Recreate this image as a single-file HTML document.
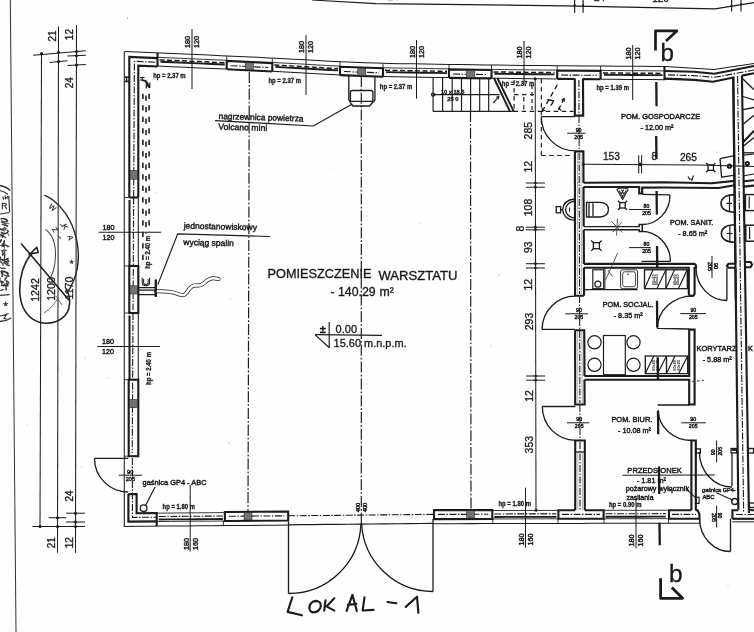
<!DOCTYPE html>
<html><head><meta charset="utf-8"><title>plan</title>
<style>
html,body{margin:0;padding:0;background:#fff;}
svg{display:block;font-family:"Liberation Sans",sans-serif;}
</style></head><body>
<svg width="754" height="632" viewBox="0 0 754 632">
<defs>
<pattern id="hx" width="2" height="2" patternUnits="userSpaceOnUse">
<rect width="2" height="2" fill="#b4b4b4"/><path d="M0,0L2,2M2,0L0,2" stroke="#444" stroke-width="0.6"/>
</pattern>
<filter id="soft" x="0" y="0" width="100%" height="100%" filterUnits="userSpaceOnUse"><feGaussianBlur stdDeviation="0.32"/></filter>
</defs>
<rect width="754" height="632" fill="#fefefe"/>
<g filter="url(#soft)">
<line x1="124.30" y1="51.50" x2="124.30" y2="526.40" stroke="#1a1a1a" stroke-width="1.01" stroke-linecap="butt"/>
<polyline points="124.70,51.50 136.73,52.01 148.75,52.53 160.78,53.04 172.81,53.55 184.83,54.06 196.86,54.59 208.89,55.12 220.91,55.65 232.94,56.18 244.97,56.74 256.99,57.32 269.02,57.90 281.04,58.52 293.07,59.14 305.10,59.81 317.12,60.53 329.15,61.25 341.18,61.78 353.20,62.31 365.23,62.76 377.26,63.12 389.28,63.48 401.31,63.68 413.34,63.87 425.36,64.07 437.39,64.26 449.42,64.43 461.44,64.59 473.47,64.75 485.50,64.91 497.52,65.07 509.55,65.23 521.58,65.39 533.60,65.53 545.63,65.62 557.66,65.70 569.68,65.79 581.71,65.88 593.73,65.97 605.76,66.06 617.79,66.15 629.81,66.24 641.84,66.33 653.87,66.42 665.89,66.55 677.92,67.29 689.95,68.03 701.97,68.76 714.00,69.50" fill="none" stroke="#1a1a1a" stroke-width="1.01" stroke-linejoin="miter"/>
<line x1="714.00" y1="69.50" x2="754.00" y2="63.60" stroke="#1a1a1a" stroke-width="1.01" stroke-linecap="butt"/>
<polyline points="123.80,526.40 136.47,526.30 149.14,526.20 161.81,526.10 174.48,526.00 187.15,525.90 199.82,525.80 212.48,525.70 225.15,525.60 237.82,525.50 250.49,525.40 263.16,525.30 275.83,525.19 288.50,525.09" fill="none" stroke="#1a1a1a" stroke-width="1.01" stroke-linejoin="miter"/>
<polyline points="129.30,197.50 129.30,56.90 157.50,58.10" fill="none" stroke="#1a1a1a" stroke-width="2.12" stroke-linejoin="miter"/>
<polyline points="138.30,197.50 138.30,65.68 157.50,66.50" fill="none" stroke="#1a1a1a" stroke-width="2.12" stroke-linejoin="miter"/>
<line x1="157.50" y1="52.90" x2="157.50" y2="66.50" stroke="#1a1a1a" stroke-width="2.12" stroke-linecap="butt"/>
<line x1="129.30" y1="197.50" x2="138.30" y2="197.50" stroke="#1a1a1a" stroke-width="2.12" stroke-linecap="butt"/>
<polyline points="133.66,197.00 134.42,61.26 157.00,62.28" fill="none" stroke="#1a1a1a" stroke-width="1.09" stroke-dasharray="7 1.5 1.5 1.5" stroke-linejoin="miter"/>
<rect x="130.10" y="170.50" width="7.40" height="8.70" fill="url(#hx)" stroke="#1a1a1a" stroke-width="0.5"/>
<line x1="124.30" y1="197.50" x2="129.30" y2="197.50" stroke="#1a1a1a" stroke-width="0.87" stroke-linecap="butt"/>
<line x1="124.30" y1="266.00" x2="129.30" y2="266.00" stroke="#1a1a1a" stroke-width="0.87" stroke-linecap="butt"/>
<line x1="124.30" y1="313.00" x2="129.30" y2="313.00" stroke="#1a1a1a" stroke-width="0.87" stroke-linecap="butt"/>
<line x1="124.30" y1="379.70" x2="129.30" y2="379.70" stroke="#1a1a1a" stroke-width="0.87" stroke-linecap="butt"/>
<line x1="124.30" y1="456.20" x2="129.30" y2="456.20" stroke="#1a1a1a" stroke-width="0.87" stroke-linecap="butt"/>
<line x1="129.50" y1="200.00" x2="129.50" y2="265.50" stroke="#1a1a1a" stroke-width="2.0" stroke-linecap="butt"/>
<line x1="133.65" y1="197.50" x2="133.27" y2="266.00" stroke="#1a1a1a" stroke-width="1.09" stroke-dasharray="7 1.5 1.5 1.5" stroke-linecap="butt"/>
<line x1="138.30" y1="197.50" x2="138.30" y2="266.00" stroke="#1a1a1a" stroke-width="1.01" stroke-linecap="butt"/>
<rect x="129.30" y="266.00" width="9.00" height="47.00" fill="none" stroke="#1a1a1a" stroke-width="2.12"/>
<line x1="133.27" y1="269.00" x2="133.01" y2="310.00" stroke="#1a1a1a" stroke-width="1.09" stroke-dasharray="7 1.5 1.5 1.5" stroke-linecap="butt"/>
<rect x="130.10" y="285.80" width="7.40" height="8.20" fill="url(#hx)" stroke="#1a1a1a" stroke-width="0.5"/>
<line x1="129.50" y1="315.50" x2="129.50" y2="379.20" stroke="#1a1a1a" stroke-width="2.0" stroke-linecap="butt"/>
<line x1="133.01" y1="313.00" x2="132.63" y2="379.70" stroke="#1a1a1a" stroke-width="1.09" stroke-dasharray="7 1.5 1.5 1.5" stroke-linecap="butt"/>
<line x1="138.30" y1="313.00" x2="138.30" y2="379.70" stroke="#1a1a1a" stroke-width="1.01" stroke-linecap="butt"/>
<rect x="128.70" y="379.70" width="9.60" height="76.50" fill="none" stroke="#1a1a1a" stroke-width="2.12"/>
<line x1="132.62" y1="382.70" x2="132.22" y2="453.00" stroke="#1a1a1a" stroke-width="1.09" stroke-dasharray="7 1.5 1.5 1.5" stroke-linecap="butt"/>
<rect x="129.50" y="399.50" width="8.00" height="8.20" fill="url(#hx)" stroke="#1a1a1a" stroke-width="0.5"/>
<polyline points="128.40,494.10 128.40,521.60 156.70,521.40" fill="none" stroke="#1a1a1a" stroke-width="2.12" stroke-linejoin="miter"/>
<polyline points="128.40,494.10 136.60,494.10 136.60,513.20 156.70,513.00 156.70,526.20" fill="none" stroke="#1a1a1a" stroke-width="2.12" stroke-linejoin="miter"/>
<polyline points="132.40,458.00 132.40,517.40 156.00,517.20" fill="none" stroke="#1a1a1a" stroke-width="1.09" stroke-dasharray="7 1.5 1.5 1.5" stroke-linejoin="miter"/>
<polyline points="157.50,57.30 171.34,57.89 185.18,58.48 199.02,59.08 212.86,59.69 226.70,60.30" fill="none" stroke="#1a1a1a" stroke-width="0.87" stroke-linejoin="miter"/>
<polyline points="159.50,59.88 172.54,60.44 185.58,61.00 198.62,61.57 211.66,62.14 224.70,62.71" fill="none" stroke="#1a1a1a" stroke-width="1.45" stroke-dasharray="5 2.5" stroke-linejoin="miter"/>
<polyline points="160.50,61.73 173.34,62.27 186.18,62.82 199.02,63.38 211.86,63.95 224.70,64.51" fill="none" stroke="#1a1a1a" stroke-width="1.88" stroke-linejoin="miter"/>
<polyline points="157.50,66.10 171.34,66.69 185.18,67.28 199.02,67.88 212.86,68.49 226.70,69.10" fill="none" stroke="#1a1a1a" stroke-width="1.01" stroke-linejoin="miter"/>
<polyline points="226.70,69.30 226.70,60.90 272.30,63.07 272.30,71.47" fill="none" stroke="#1a1a1a" stroke-width="2.12" stroke-linejoin="miter"/>
<polyline points="226.70,69.30 272.30,71.47" fill="none" stroke="#1a1a1a" stroke-width="2.12" stroke-linejoin="miter"/>
<line x1="226.70" y1="55.90" x2="226.70" y2="60.90" stroke="#1a1a1a" stroke-width="0.87" stroke-linecap="butt"/>
<line x1="272.30" y1="58.07" x2="272.30" y2="63.07" stroke="#1a1a1a" stroke-width="0.87" stroke-linecap="butt"/>
<polyline points="230.70,65.68 243.23,66.25 255.77,66.86 268.30,67.47" fill="none" stroke="#1a1a1a" stroke-width="1.09" stroke-dasharray="7 1.5 1.5 1.5" stroke-linejoin="miter"/>
<rect x="245.40" y="62.66" width="8.00" height="7.20" fill="url(#hx)" stroke="#1a1a1a" stroke-width="0.5"/>
<polyline points="272.30,62.47 285.84,63.17 299.38,63.87 312.92,64.68 326.46,65.49 340.00,66.13" fill="none" stroke="#1a1a1a" stroke-width="0.87" stroke-linejoin="miter"/>
<polyline points="274.30,65.07 287.04,65.73 299.78,66.39 312.52,67.15 325.26,67.92 338.00,68.55" fill="none" stroke="#1a1a1a" stroke-width="1.45" stroke-dasharray="5 2.5" stroke-linejoin="miter"/>
<polyline points="275.30,66.92 287.84,67.57 300.38,68.22 312.92,68.98 325.46,69.73 338.00,70.35" fill="none" stroke="#1a1a1a" stroke-width="1.88" stroke-linejoin="miter"/>
<polyline points="272.30,71.27 285.84,71.97 299.38,72.67 312.92,73.48 326.46,74.29 340.00,74.93" fill="none" stroke="#1a1a1a" stroke-width="1.01" stroke-linejoin="miter"/>
<polyline points="340.00,75.13 340.00,66.73 383.00,68.29 383.00,76.69" fill="none" stroke="#1a1a1a" stroke-width="2.12" stroke-linejoin="miter"/>
<polyline points="340.00,75.13 383.00,76.69" fill="none" stroke="#1a1a1a" stroke-width="2.12" stroke-linejoin="miter"/>
<line x1="340.00" y1="61.73" x2="340.00" y2="66.73" stroke="#1a1a1a" stroke-width="0.87" stroke-linecap="butt"/>
<line x1="383.00" y1="63.29" x2="383.00" y2="68.29" stroke="#1a1a1a" stroke-width="0.87" stroke-linecap="butt"/>
<polyline points="344.00,71.51 361.50,72.25 379.00,72.77" fill="none" stroke="#1a1a1a" stroke-width="1.09" stroke-dasharray="7 1.5 1.5 1.5" stroke-linejoin="miter"/>
<rect x="357.80" y="68.40" width="8.00" height="7.20" fill="url(#hx)" stroke="#1a1a1a" stroke-width="0.5"/>
<polyline points="383.00,67.69 396.20,68.00 409.40,68.21 422.60,68.42 435.80,68.63 449.00,68.82" fill="none" stroke="#1a1a1a" stroke-width="0.87" stroke-linejoin="miter"/>
<polyline points="385.00,70.25 397.40,70.52 409.80,70.72 422.20,70.92 434.60,71.11 447.00,71.29" fill="none" stroke="#1a1a1a" stroke-width="1.45" stroke-dasharray="5 2.5" stroke-linejoin="miter"/>
<polyline points="386.00,72.08 398.20,72.33 410.40,72.53 422.60,72.72 434.80,72.92 447.00,73.09" fill="none" stroke="#1a1a1a" stroke-width="1.88" stroke-linejoin="miter"/>
<polyline points="383.00,76.49 396.20,76.80 409.40,77.01 422.60,77.22 435.80,77.43 449.00,77.62" fill="none" stroke="#1a1a1a" stroke-width="1.01" stroke-linejoin="miter"/>
<polyline points="449.00,77.82 449.00,69.42 491.50,69.99 491.50,78.39" fill="none" stroke="#1a1a1a" stroke-width="2.12" stroke-linejoin="miter"/>
<polyline points="449.00,77.82 491.50,78.39" fill="none" stroke="#1a1a1a" stroke-width="2.12" stroke-linejoin="miter"/>
<line x1="449.00" y1="64.42" x2="449.00" y2="69.42" stroke="#1a1a1a" stroke-width="0.87" stroke-linecap="butt"/>
<line x1="491.50" y1="64.99" x2="491.50" y2="69.99" stroke="#1a1a1a" stroke-width="0.87" stroke-linecap="butt"/>
<polyline points="453.00,74.07 470.25,74.30 487.50,74.53" fill="none" stroke="#1a1a1a" stroke-width="1.09" stroke-dasharray="7 1.5 1.5 1.5" stroke-linejoin="miter"/>
<rect x="466.50" y="70.55" width="8.00" height="7.20" fill="url(#hx)" stroke="#1a1a1a" stroke-width="0.5"/>
<polyline points="491.50,69.39 504.50,69.56 517.50,69.73 530.50,69.90 543.50,70.00 556.50,70.10" fill="none" stroke="#1a1a1a" stroke-width="0.87" stroke-linejoin="miter"/>
<polyline points="493.50,71.91 505.70,72.08 517.90,72.24 530.10,72.40 542.30,72.49 554.50,72.58" fill="none" stroke="#1a1a1a" stroke-width="1.45" stroke-dasharray="5 2.5" stroke-linejoin="miter"/>
<polyline points="494.50,73.73 506.50,73.89 518.50,74.05 530.50,74.20 542.50,74.29 554.50,74.38" fill="none" stroke="#1a1a1a" stroke-width="1.88" stroke-linejoin="miter"/>
<polyline points="491.50,78.19 504.50,78.36 517.50,78.53 530.50,78.70 543.50,78.80 556.50,78.90" fill="none" stroke="#1a1a1a" stroke-width="1.01" stroke-linejoin="miter"/>
<polyline points="601.00,70.43 613.70,70.52 626.40,70.61 639.10,70.71 651.80,70.80 664.50,70.90" fill="none" stroke="#1a1a1a" stroke-width="0.87" stroke-linejoin="miter"/>
<polyline points="603.00,72.94 617.88,73.05 632.75,73.16 647.62,73.27 662.50,73.38" fill="none" stroke="#1a1a1a" stroke-width="1.45" stroke-dasharray="5 2.5" stroke-linejoin="miter"/>
<polyline points="604.00,74.75 618.62,74.86 633.25,74.96 647.88,75.07 662.50,75.18" fill="none" stroke="#1a1a1a" stroke-width="1.88" stroke-linejoin="miter"/>
<polyline points="601.00,79.23 613.70,79.32 626.40,79.41 639.10,79.51 651.80,79.60 664.50,79.70" fill="none" stroke="#1a1a1a" stroke-width="1.01" stroke-linejoin="miter"/>
<polyline points="156.80,513.14 170.42,513.03 184.04,512.92 197.66,512.81 211.28,512.71 224.90,512.60" fill="none" stroke="#1a1a1a" stroke-width="0.87" stroke-linejoin="miter"/>
<polyline points="158.80,516.52 171.62,516.42 184.44,516.32 197.26,516.22 210.08,516.12 222.90,516.01" fill="none" stroke="#1a1a1a" stroke-width="1.09" stroke-dasharray="7 1.5 1.5 1.5" stroke-linejoin="miter"/>
<polyline points="158.80,519.52 171.62,519.42 184.44,519.32 197.26,519.22 210.08,519.12 222.90,519.01" fill="none" stroke="#1a1a1a" stroke-width="1.88" stroke-linejoin="miter"/>
<polyline points="156.80,521.54 170.42,521.43 184.04,521.32 197.66,521.21 211.28,521.11 224.90,521.00" fill="none" stroke="#1a1a1a" stroke-width="0.87" stroke-linejoin="miter"/>
<polygon points="224.90,512.00 288.20,511.50 288.20,520.50 224.90,521.00" fill="none" stroke="#1a1a1a" stroke-width="2.12" stroke-linejoin="miter"/>
<polyline points="228.90,516.27 242.72,516.16 256.55,516.05 270.38,515.94 284.20,515.83" fill="none" stroke="#1a1a1a" stroke-width="1.09" stroke-dasharray="7 1.5 1.5 1.5" stroke-linejoin="miter"/>
<rect x="244.00" y="512.55" width="8.00" height="7.40" fill="url(#hx)" stroke="#1a1a1a" stroke-width="0.5"/>
<line x1="223.40" y1="521.00" x2="223.40" y2="525.60" stroke="#1a1a1a" stroke-width="0.87" stroke-linecap="butt"/>
<polyline points="288.20,524.80 300.31,524.68 312.42,524.56 324.52,524.45 336.63,524.33 348.74,524.21 360.85,524.10 372.96,523.98 385.07,523.86 397.18,523.75 409.28,523.63 421.39,523.51 433.50,523.40" fill="none" stroke="#1a1a1a" stroke-width="1.16" stroke-linejoin="miter"/>
<polyline points="288.20,515.80 300.31,515.68 312.42,515.56 324.52,515.45 336.63,515.33 348.74,515.21 360.85,515.10 372.96,514.98 385.07,514.86 397.18,514.75 409.28,514.63 421.39,514.51 433.50,514.40" fill="none" stroke="#1a1a1a" stroke-width="1.09" stroke-dasharray="7 1.5 1.5 1.5" stroke-linejoin="miter"/>
<polygon points="434.00,510.10 492.30,509.96 492.30,518.96 434.00,519.10" fill="none" stroke="#1a1a1a" stroke-width="2.12" stroke-linejoin="miter"/>
<polyline points="438.00,514.39 450.57,514.36 463.15,514.33 475.73,514.30 488.30,514.27" fill="none" stroke="#1a1a1a" stroke-width="1.09" stroke-dasharray="7 1.5 1.5 1.5" stroke-linejoin="miter"/>
<rect x="466.50" y="510.72" width="8.00" height="7.40" fill="url(#hx)" stroke="#1a1a1a" stroke-width="0.5"/>
<polyline points="433.50,523.70 445.64,523.67 457.77,523.64 469.91,523.62 482.05,523.59 494.18,523.56 506.32,523.53 518.45,523.50 530.59,523.48 542.73,523.45 554.86,523.42 567.00,523.40 579.14,523.38 591.27,523.36 603.41,523.34 615.55,523.32 627.68,523.31 639.82,523.29 651.95,523.27 664.09,523.25 676.23,523.23 688.36,523.22 700.50,523.20" fill="none" stroke="#1a1a1a" stroke-width="1.01" stroke-linejoin="miter"/>
<polyline points="492.30,510.56 505.54,510.53 518.78,510.50 532.02,510.47 545.26,510.44 558.50,510.41" fill="none" stroke="#1a1a1a" stroke-width="0.87" stroke-linejoin="miter"/>
<polyline points="494.30,513.96 506.74,513.93 519.18,513.90 531.62,513.87 544.06,513.85 556.50,513.82" fill="none" stroke="#1a1a1a" stroke-width="1.09" stroke-dasharray="7 1.5 1.5 1.5" stroke-linejoin="miter"/>
<polyline points="494.30,516.96 506.74,516.93 519.18,516.90 531.62,516.87 544.06,516.85 556.50,516.82" fill="none" stroke="#1a1a1a" stroke-width="1.88" stroke-linejoin="miter"/>
<polyline points="492.30,518.96 505.54,518.93 518.78,518.90 532.02,518.87 545.26,518.84 558.50,518.81" fill="none" stroke="#1a1a1a" stroke-width="0.87" stroke-linejoin="miter"/>
<polyline points="603.50,510.34 616.36,510.32 629.22,510.30 642.08,510.29 654.94,510.27 667.80,510.25" fill="none" stroke="#1a1a1a" stroke-width="0.87" stroke-linejoin="miter"/>
<polyline points="605.50,513.74 617.56,513.72 629.62,513.70 641.68,513.69 653.74,513.67 665.80,513.65" fill="none" stroke="#1a1a1a" stroke-width="1.09" stroke-dasharray="7 1.5 1.5 1.5" stroke-linejoin="miter"/>
<polyline points="605.50,516.74 617.56,516.72 629.62,516.70 641.68,516.69 653.74,516.67 665.80,516.65" fill="none" stroke="#1a1a1a" stroke-width="1.88" stroke-linejoin="miter"/>
<polyline points="603.50,518.74 616.36,518.72 629.22,518.70 642.08,518.69 654.94,518.67 667.80,518.65" fill="none" stroke="#1a1a1a" stroke-width="0.87" stroke-linejoin="miter"/>
<line x1="492.80" y1="519.16" x2="492.80" y2="523.56" stroke="#1a1a1a" stroke-width="0.87" stroke-linecap="butt"/>
<line x1="558.00" y1="519.01" x2="558.00" y2="523.41" stroke="#1a1a1a" stroke-width="0.87" stroke-linecap="butt"/>
<line x1="604.00" y1="518.94" x2="604.00" y2="523.34" stroke="#1a1a1a" stroke-width="0.87" stroke-linecap="butt"/>
<line x1="668.60" y1="518.85" x2="668.60" y2="523.25" stroke="#1a1a1a" stroke-width="0.87" stroke-linecap="butt"/>
<line x1="699.80" y1="518.80" x2="699.80" y2="523.20" stroke="#1a1a1a" stroke-width="0.87" stroke-linecap="butt"/>
<line x1="10.30" y1="0.00" x2="16.00" y2="632.00" stroke="#333" stroke-width="1.01" stroke-linecap="butt"/>
<line x1="41.50" y1="53.60" x2="40.00" y2="526.50" stroke="#1a1a1a" stroke-width="1.01" stroke-linecap="butt"/>
<line x1="58.50" y1="26.40" x2="57.50" y2="552.70" stroke="#1a1a1a" stroke-width="1.01" stroke-linecap="butt"/>
<line x1="76.50" y1="25.10" x2="75.50" y2="552.70" stroke="#1a1a1a" stroke-width="1.01" stroke-linecap="butt"/>
<line x1="33.20" y1="55.30" x2="85.80" y2="50.80" stroke="#1a1a1a" stroke-width="1.01" stroke-linecap="butt"/>
<line x1="49.70" y1="62.50" x2="67.40" y2="60.80" stroke="#1a1a1a" stroke-width="1.01" stroke-linecap="butt"/>
<line x1="67.40" y1="56.10" x2="85.80" y2="55.30" stroke="#1a1a1a" stroke-width="1.01" stroke-linecap="butt"/>
<line x1="67.40" y1="65.40" x2="85.80" y2="64.60" stroke="#1a1a1a" stroke-width="1.01" stroke-linecap="butt"/>
<circle cx="41.50" cy="53.60" r="1.5" fill="#1a1a1a"/>
<circle cx="58.50" cy="52.30" r="1.5" fill="#1a1a1a"/>
<circle cx="76.50" cy="51.50" r="1.5" fill="#1a1a1a"/>
<circle cx="58.50" cy="61.60" r="1.5" fill="#1a1a1a"/>
<circle cx="76.50" cy="55.80" r="1.5" fill="#1a1a1a"/>
<circle cx="76.50" cy="65.10" r="1.5" fill="#1a1a1a"/>
<line x1="32.50" y1="526.50" x2="85.00" y2="526.50" stroke="#1a1a1a" stroke-width="1.01" stroke-linecap="butt"/>
<line x1="48.70" y1="517.70" x2="66.20" y2="517.70" stroke="#1a1a1a" stroke-width="1.01" stroke-linecap="butt"/>
<line x1="66.20" y1="513.20" x2="85.00" y2="513.20" stroke="#1a1a1a" stroke-width="1.01" stroke-linecap="butt"/>
<line x1="66.20" y1="522.00" x2="85.00" y2="522.00" stroke="#1a1a1a" stroke-width="1.01" stroke-linecap="butt"/>
<circle cx="40.00" cy="526.50" r="1.5" fill="#1a1a1a"/>
<circle cx="57.50" cy="526.50" r="1.5" fill="#1a1a1a"/>
<circle cx="75.50" cy="526.50" r="1.5" fill="#1a1a1a"/>
<circle cx="57.50" cy="517.70" r="1.5" fill="#1a1a1a"/>
<circle cx="75.50" cy="513.20" r="1.5" fill="#1a1a1a"/>
<circle cx="75.50" cy="522.00" r="1.5" fill="#1a1a1a"/>
<text x="56.00" y="35.90" font-size="10" text-anchor="middle" font-weight="normal" fill="#1a1a1a" stroke="#1a1a1a" stroke-width="0.32" transform="rotate(-90 56.00 35.90)">21</text>
<text x="73.40" y="34.60" font-size="10" text-anchor="middle" font-weight="normal" fill="#1a1a1a" stroke="#1a1a1a" stroke-width="0.32" transform="rotate(-90 73.40 34.60)">12</text>
<text x="73.40" y="82.70" font-size="10" text-anchor="middle" font-weight="normal" fill="#1a1a1a" stroke="#1a1a1a" stroke-width="0.32" transform="rotate(-90 73.40 82.70)">24</text>
<text x="73.20" y="496.00" font-size="10" text-anchor="middle" font-weight="normal" fill="#1a1a1a" stroke="#1a1a1a" stroke-width="0.32" transform="rotate(-90 73.20 496.00)">24</text>
<text x="55.20" y="542.70" font-size="10" text-anchor="middle" font-weight="normal" fill="#1a1a1a" stroke="#1a1a1a" stroke-width="0.32" transform="rotate(-90 55.20 542.70)">21</text>
<text x="73.20" y="542.70" font-size="10" text-anchor="middle" font-weight="normal" fill="#1a1a1a" stroke="#1a1a1a" stroke-width="0.32" transform="rotate(-90 73.20 542.70)">12</text>
<text x="39.00" y="290.00" font-size="10.6" text-anchor="middle" font-weight="normal" fill="#1a1a1a" stroke="#1a1a1a" stroke-width="0.32" transform="rotate(-90 39.00 290.00)">1242</text>
<text x="55.30" y="289.00" font-size="10.6" text-anchor="middle" font-weight="normal" fill="#1a1a1a" stroke="#1a1a1a" stroke-width="0.32" transform="rotate(-90 55.30 289.00)">1200</text>
<text x="72.80" y="288.00" font-size="10.6" text-anchor="middle" font-weight="normal" fill="#1a1a1a" stroke="#1a1a1a" stroke-width="0.32" transform="rotate(-90 72.80 288.00)">1170</text>
<line x1="192.00" y1="29.00" x2="192.00" y2="89.00" stroke="#1a1a1a" stroke-width="1.01" stroke-linecap="butt"/>
<text x="190.40" y="42.00" font-size="7.2" text-anchor="middle" font-weight="normal" fill="#1a1a1a" stroke="#1a1a1a" stroke-width="0.42" transform="rotate(-90 190.40 42.00)">180</text>
<text x="199.40" y="42.00" font-size="7.2" text-anchor="middle" font-weight="normal" fill="#1a1a1a" stroke="#1a1a1a" stroke-width="0.42" transform="rotate(-90 199.40 42.00)">120</text>
<line x1="306.00" y1="35.00" x2="306.00" y2="95.00" stroke="#1a1a1a" stroke-width="1.01" stroke-linecap="butt"/>
<text x="304.40" y="47.00" font-size="7.2" text-anchor="middle" font-weight="normal" fill="#1a1a1a" stroke="#1a1a1a" stroke-width="0.42" transform="rotate(-90 304.40 47.00)">180</text>
<text x="313.40" y="47.00" font-size="7.2" text-anchor="middle" font-weight="normal" fill="#1a1a1a" stroke="#1a1a1a" stroke-width="0.42" transform="rotate(-90 313.40 47.00)">120</text>
<line x1="416.50" y1="40.00" x2="416.50" y2="98.70" stroke="#1a1a1a" stroke-width="1.01" stroke-linecap="butt"/>
<text x="414.90" y="52.00" font-size="7.2" text-anchor="middle" font-weight="normal" fill="#1a1a1a" stroke="#1a1a1a" stroke-width="0.42" transform="rotate(-90 414.90 52.00)">180</text>
<text x="423.90" y="52.00" font-size="7.2" text-anchor="middle" font-weight="normal" fill="#1a1a1a" stroke="#1a1a1a" stroke-width="0.42" transform="rotate(-90 423.90 52.00)">120</text>
<line x1="524.00" y1="41.00" x2="524.00" y2="85.00" stroke="#1a1a1a" stroke-width="1.01" stroke-linecap="butt"/>
<text x="522.40" y="52.50" font-size="7.2" text-anchor="middle" font-weight="normal" fill="#1a1a1a" stroke="#1a1a1a" stroke-width="0.42" transform="rotate(-90 522.40 52.50)">180</text>
<text x="531.40" y="52.50" font-size="7.2" text-anchor="middle" font-weight="normal" fill="#1a1a1a" stroke="#1a1a1a" stroke-width="0.42" transform="rotate(-90 531.40 52.50)">120</text>
<line x1="632.70" y1="45.00" x2="632.70" y2="100.00" stroke="#1a1a1a" stroke-width="1.01" stroke-linecap="butt"/>
<text x="631.10" y="53.50" font-size="7.2" text-anchor="middle" font-weight="normal" fill="#1a1a1a" stroke="#1a1a1a" stroke-width="0.42" transform="rotate(-90 631.10 53.50)">180</text>
<text x="640.10" y="53.50" font-size="7.2" text-anchor="middle" font-weight="normal" fill="#1a1a1a" stroke="#1a1a1a" stroke-width="0.42" transform="rotate(-90 640.10 53.50)">120</text>
<line x1="190.20" y1="485.00" x2="190.20" y2="551.50" stroke="#1a1a1a" stroke-width="1.01" stroke-linecap="butt"/>
<text x="188.60" y="544.00" font-size="7.2" text-anchor="middle" font-weight="normal" fill="#1a1a1a" stroke="#1a1a1a" stroke-width="0.42" transform="rotate(-90 188.60 544.00)">180</text>
<text x="197.60" y="544.00" font-size="7.2" text-anchor="middle" font-weight="normal" fill="#1a1a1a" stroke="#1a1a1a" stroke-width="0.42" transform="rotate(-90 197.60 544.00)">160</text>
<line x1="525.50" y1="487.70" x2="525.50" y2="547.70" stroke="#1a1a1a" stroke-width="1.01" stroke-linecap="butt"/>
<text x="523.90" y="539.50" font-size="7.2" text-anchor="middle" font-weight="normal" fill="#1a1a1a" stroke="#1a1a1a" stroke-width="0.42" transform="rotate(-90 523.90 539.50)">180</text>
<text x="532.90" y="539.50" font-size="7.2" text-anchor="middle" font-weight="normal" fill="#1a1a1a" stroke="#1a1a1a" stroke-width="0.42" transform="rotate(-90 532.90 539.50)">160</text>
<line x1="636.00" y1="499.00" x2="636.00" y2="548.50" stroke="#1a1a1a" stroke-width="1.01" stroke-linecap="butt"/>
<text x="634.40" y="540.50" font-size="7.2" text-anchor="middle" font-weight="normal" fill="#1a1a1a" stroke="#1a1a1a" stroke-width="0.42" transform="rotate(-90 634.40 540.50)">180</text>
<text x="643.40" y="540.50" font-size="7.2" text-anchor="middle" font-weight="normal" fill="#1a1a1a" stroke="#1a1a1a" stroke-width="0.42" transform="rotate(-90 643.40 540.50)">160</text>
<line x1="98.70" y1="232.30" x2="161.20" y2="232.30" stroke="#1a1a1a" stroke-width="1.01" stroke-linecap="butt"/>
<text x="108.50" y="230.10" font-size="7.2" text-anchor="middle" font-weight="normal" fill="#1a1a1a" stroke="#1a1a1a" stroke-width="0.42">180</text>
<text x="108.50" y="239.50" font-size="7.2" text-anchor="middle" font-weight="normal" fill="#1a1a1a" stroke="#1a1a1a" stroke-width="0.42">120</text>
<line x1="97.50" y1="346.50" x2="160.00" y2="346.50" stroke="#1a1a1a" stroke-width="1.01" stroke-linecap="butt"/>
<text x="108.00" y="344.30" font-size="7.2" text-anchor="middle" font-weight="normal" fill="#1a1a1a" stroke="#1a1a1a" stroke-width="0.42">180</text>
<text x="108.00" y="353.70" font-size="7.2" text-anchor="middle" font-weight="normal" fill="#1a1a1a" stroke="#1a1a1a" stroke-width="0.42">120</text>
<line x1="535.20" y1="78.70" x2="536.00" y2="510.20" stroke="#1a1a1a" stroke-width="1.01" stroke-linecap="butt"/>
<circle cx="535.20" cy="78.70" r="1.5" fill="#1a1a1a"/>
<circle cx="536.00" cy="510.20" r="1.5" fill="#1a1a1a"/>
<line x1="525.90" y1="183.00" x2="544.90" y2="183.00" stroke="#1a1a1a" stroke-width="1.01" stroke-linecap="butt"/>
<circle cx="535.40" cy="183.00" r="1.35" fill="#1a1a1a"/>
<line x1="525.90" y1="187.20" x2="544.90" y2="187.20" stroke="#1a1a1a" stroke-width="1.01" stroke-linecap="butt"/>
<circle cx="535.40" cy="187.20" r="1.35" fill="#1a1a1a"/>
<line x1="525.90" y1="227.20" x2="544.90" y2="227.20" stroke="#1a1a1a" stroke-width="1.01" stroke-linecap="butt"/>
<circle cx="535.40" cy="227.20" r="1.35" fill="#1a1a1a"/>
<line x1="525.90" y1="229.80" x2="544.90" y2="229.80" stroke="#1a1a1a" stroke-width="1.01" stroke-linecap="butt"/>
<circle cx="535.40" cy="229.80" r="1.35" fill="#1a1a1a"/>
<line x1="525.90" y1="263.70" x2="544.90" y2="263.70" stroke="#1a1a1a" stroke-width="1.01" stroke-linecap="butt"/>
<circle cx="535.40" cy="263.70" r="1.35" fill="#1a1a1a"/>
<line x1="525.90" y1="268.00" x2="544.90" y2="268.00" stroke="#1a1a1a" stroke-width="1.01" stroke-linecap="butt"/>
<circle cx="535.40" cy="268.00" r="1.35" fill="#1a1a1a"/>
<line x1="526.20" y1="376.00" x2="545.20" y2="376.00" stroke="#1a1a1a" stroke-width="1.01" stroke-linecap="butt"/>
<circle cx="535.70" cy="376.00" r="1.35" fill="#1a1a1a"/>
<line x1="526.20" y1="380.20" x2="545.20" y2="380.20" stroke="#1a1a1a" stroke-width="1.01" stroke-linecap="butt"/>
<circle cx="535.70" cy="380.20" r="1.35" fill="#1a1a1a"/>
<text x="532.30" y="130.70" font-size="10.4" text-anchor="middle" font-weight="normal" fill="#1a1a1a" stroke="#1a1a1a" stroke-width="0.32" transform="rotate(-90 532.30 130.70)">285</text>
<text x="532.30" y="166.70" font-size="10.4" text-anchor="middle" font-weight="normal" fill="#1a1a1a" stroke="#1a1a1a" stroke-width="0.32" transform="rotate(-90 532.30 166.70)">12</text>
<text x="532.30" y="207.50" font-size="10.4" text-anchor="middle" font-weight="normal" fill="#1a1a1a" stroke="#1a1a1a" stroke-width="0.32" transform="rotate(-90 532.30 207.50)">108</text>
<text x="524.50" y="228.70" font-size="10.4" text-anchor="middle" font-weight="normal" fill="#1a1a1a" stroke="#1a1a1a" stroke-width="0.32" transform="rotate(-90 524.50 228.70)">8</text>
<text x="532.30" y="247.20" font-size="10.4" text-anchor="middle" font-weight="normal" fill="#1a1a1a" stroke="#1a1a1a" stroke-width="0.32" transform="rotate(-90 532.30 247.20)">93</text>
<text x="532.30" y="284.70" font-size="10.4" text-anchor="middle" font-weight="normal" fill="#1a1a1a" stroke="#1a1a1a" stroke-width="0.32" transform="rotate(-90 532.30 284.70)">12</text>
<text x="532.50" y="321.50" font-size="10.4" text-anchor="middle" font-weight="normal" fill="#1a1a1a" stroke="#1a1a1a" stroke-width="0.32" transform="rotate(-90 532.50 321.50)">293</text>
<text x="532.60" y="396.00" font-size="10.4" text-anchor="middle" font-weight="normal" fill="#1a1a1a" stroke="#1a1a1a" stroke-width="0.32" transform="rotate(-90 532.60 396.00)">12</text>
<text x="532.80" y="444.70" font-size="10.4" text-anchor="middle" font-weight="normal" fill="#1a1a1a" stroke="#1a1a1a" stroke-width="0.32" transform="rotate(-90 532.80 444.70)">353</text>
<line x1="249.30" y1="72.00" x2="248.00" y2="511.50" stroke="#1a1a1a" stroke-width="1.16" stroke-dasharray="11 2 1.8 2" stroke-linecap="butt"/>
<line x1="361.30" y1="76.00" x2="361.30" y2="524.00" stroke="#1a1a1a" stroke-width="1.16" stroke-dasharray="11 2 1.8 2" stroke-linecap="butt"/>
<line x1="470.50" y1="111.00" x2="471.00" y2="509.50" stroke="#1a1a1a" stroke-width="1.16" stroke-dasharray="11 2 1.8 2" stroke-linecap="butt"/>
<text x="153.20" y="78.20" font-size="6.5" text-anchor="start" font-weight="bold" fill="#1a1a1a" stroke="#1a1a1a" stroke-width="0.3" textLength="32.4" lengthAdjust="spacingAndGlyphs">hp = 2.37 m</text>
<text x="268.50" y="83.20" font-size="6.5" text-anchor="start" font-weight="bold" fill="#1a1a1a" stroke="#1a1a1a" stroke-width="0.3" textLength="32.4" lengthAdjust="spacingAndGlyphs">hp = 2.37 m</text>
<text x="379.80" y="88.80" font-size="6.5" text-anchor="start" font-weight="bold" fill="#1a1a1a" stroke="#1a1a1a" stroke-width="0.3" textLength="32.4" lengthAdjust="spacingAndGlyphs">hp = 2.37 m</text>
<text x="501.80" y="85.90" font-size="6.5" text-anchor="start" font-weight="bold" fill="#1a1a1a" stroke="#1a1a1a" stroke-width="0.3" textLength="32.4" lengthAdjust="spacingAndGlyphs">hp = 2.37 m</text>
<text x="596.50" y="90.20" font-size="6.5" text-anchor="start" font-weight="bold" fill="#1a1a1a" stroke="#1a1a1a" stroke-width="0.3" textLength="32.4" lengthAdjust="spacingAndGlyphs">hp = 1.39 m</text>
<text x="162.60" y="508.70" font-size="6.5" text-anchor="start" font-weight="bold" fill="#1a1a1a" stroke="#1a1a1a" stroke-width="0.3" textLength="32.4" lengthAdjust="spacingAndGlyphs">hp = 1.80 m</text>
<text x="498.50" y="506.20" font-size="6.5" text-anchor="start" font-weight="bold" fill="#1a1a1a" stroke="#1a1a1a" stroke-width="0.3" textLength="32.4" lengthAdjust="spacingAndGlyphs">hp = 1.80 m</text>
<text x="609.00" y="507.40" font-size="6.5" text-anchor="start" font-weight="bold" fill="#1a1a1a" stroke="#1a1a1a" stroke-width="0.3" textLength="32.4" lengthAdjust="spacingAndGlyphs">hp = 0.90 m</text>
<text x="150.40" y="252.30" font-size="6.5" text-anchor="middle" font-weight="bold" fill="#1a1a1a" stroke="#1a1a1a" stroke-width="0.3" transform="rotate(-90 150.40 252.30)" textLength="33" lengthAdjust="spacingAndGlyphs">hp = 2.40 m</text>
<text x="150.80" y="368.50" font-size="6.5" text-anchor="middle" font-weight="bold" fill="#1a1a1a" stroke="#1a1a1a" stroke-width="0.3" transform="rotate(-90 150.80 368.50)" textLength="33" lengthAdjust="spacingAndGlyphs">hp = 2.40 m</text>
<line x1="142.90" y1="93.80" x2="142.90" y2="266.00" stroke="#1a1a1a" stroke-width="1.56" stroke-dasharray="5.2 6.3" stroke-linecap="butt"/>
<line x1="149.10" y1="93.80" x2="149.10" y2="232.00" stroke="#1a1a1a" stroke-width="1.56" stroke-dasharray="5.2 6.3" stroke-linecap="butt"/>
<line x1="146.00" y1="95.60" x2="146.00" y2="234.00" stroke="#1a1a1a" stroke-width="1.56" stroke-dasharray="5.2 6.3" stroke-linecap="butt"/>
<path d="M140,77.5 h4.5 M140,80 h3.5 q4.5,0.3 5,6.5 M142.2,77.5 v3 q4.8,0.5 7,7.5 M146.3,83 v5.5 M149.8,82.5 v5.5 M146.3,85.8 h3.5" fill="none" stroke="#1a1a1a" stroke-width="1.16" stroke-linecap="butt" stroke-linejoin="round"/>
<path d="M124.4,77 h4.6 M124.4,81.4 h4.6 M126.6,77 v4.4" fill="none" stroke="#1a1a1a" stroke-width="1.45" stroke-linecap="butt" stroke-linejoin="round"/>
<path d="M348.8,76 V100 L352.6,106 H369.6 L374.9,100 V76.6" fill="none" stroke="#1a1a1a" stroke-width="1.3" stroke-linecap="butt" stroke-linejoin="round"/>
<path d="M350.4,101.4 V92.5 Q350.4,90.5 352.4,90.5 H370.9 Q372.9,90.5 372.9,92.5 V101.4 M350.6,101.4 H372.8" fill="none" stroke="#1a1a1a" stroke-width="1.3" stroke-linecap="butt" stroke-linejoin="round"/>
<text x="218.50" y="0.00" font-size="1" text-anchor="middle" font-weight="normal" fill="#1a1a1a" stroke="#1a1a1a" stroke-width="0.42"></text>
<g transform="rotate(1.7 218.5 119)">
<text x="218.50" y="119.00" font-size="8.6" text-anchor="start" font-weight="normal" fill="#1a1a1a" stroke="#1a1a1a" stroke-width="0.42" textLength="85" lengthAdjust="spacingAndGlyphs">nagrzewnica powietrza</text>
<text x="218.50" y="129.60" font-size="8.6" text-anchor="start" font-weight="normal" fill="#1a1a1a" stroke="#1a1a1a" stroke-width="0.42" textLength="49" lengthAdjust="spacingAndGlyphs">Volcano mini</text>
</g>
<polyline points="215.00,120.60 313.30,126.00 352.40,104.00" fill="none" stroke="#1a1a1a" stroke-width="1.16" stroke-linejoin="miter"/>
<g transform="rotate(1.4 183.7 228.5)">
<text x="183.70" y="228.50" font-size="8.5" text-anchor="start" font-weight="normal" fill="#1a1a1a" stroke="#1a1a1a" stroke-width="0.42">jednostanowiskowy</text>
<text x="183.70" y="245.00" font-size="8.5" text-anchor="start" font-weight="normal" fill="#1a1a1a" stroke="#1a1a1a" stroke-width="0.42">wyciąg spalin</text>
</g>
<polyline points="157.80,284.60 177.70,233.90 270.00,236.50" fill="none" stroke="#1a1a1a" stroke-width="1.16" stroke-linejoin="miter"/>
<line x1="155.80" y1="279.60" x2="155.80" y2="296.80" stroke="#1a1a1a" stroke-width="2.0" stroke-linecap="butt"/>
<path d="M138.9,287.6 H155.8 M138.9,294.6 H155.8 M138.9,290.2 H155.8" fill="none" stroke="#1a1a1a" stroke-width="1.16" stroke-linecap="butt" stroke-linejoin="round"/>
<path d="M142.2,277.8 V282.5 Q142.2,285.8 145.9,285.8 Q149.6,285.8 149.6,282.5 V277.8 M143.6,279 V282.3 Q143.6,284.4 145.9,284.4 Q148.2,284.4 148.2,282.3 V279" fill="none" stroke="#1a1a1a" stroke-width="1.01" stroke-linecap="butt" stroke-linejoin="round"/>
<path d="M156.00,291.20 C157.63,291.25 162.85,291.27 165.80,291.50 C168.75,291.73 171.38,292.08 173.70,292.60 C176.02,293.12 178.03,294.17 179.70,294.60 C181.37,295.03 182.55,295.53 183.70,295.20 C184.85,294.87 185.62,293.70 186.60,292.60 C187.58,291.50 188.43,289.77 189.60,288.60 C190.77,287.43 191.93,286.13 193.60,285.60 C195.27,285.07 197.95,285.73 199.60,285.40 C201.25,285.07 202.18,284.47 203.50,283.60 C204.82,282.73 206.00,281.08 207.50,280.20 C209.00,279.32 210.65,278.50 212.50,278.30 C214.35,278.10 217.58,278.88 218.60,279.00" fill="none" stroke="#1a1a1a" stroke-width="4.0" stroke-linecap="round" stroke-linejoin="round"/>
<path d="M156.00,291.20 C157.63,291.25 162.85,291.27 165.80,291.50 C168.75,291.73 171.38,292.08 173.70,292.60 C176.02,293.12 178.03,294.17 179.70,294.60 C181.37,295.03 182.55,295.53 183.70,295.20 C184.85,294.87 185.62,293.70 186.60,292.60 C187.58,291.50 188.43,289.77 189.60,288.60 C190.77,287.43 191.93,286.13 193.60,285.60 C195.27,285.07 197.95,285.73 199.60,285.40 C201.25,285.07 202.18,284.47 203.50,283.60 C204.82,282.73 206.00,281.08 207.50,280.20 C209.00,279.32 210.65,278.50 212.50,278.30 C214.35,278.10 217.58,278.88 218.60,279.00" fill="none" stroke="#fefefe" stroke-width="2.6" stroke-linecap="round"/>
<line x1="155.80" y1="279.60" x2="155.80" y2="296.80" stroke="#1a1a1a" stroke-width="2.0" stroke-linecap="butt"/>
<text x="267.50" y="278.00" font-size="12.3" text-anchor="start" font-weight="normal" fill="#1a1a1a" stroke="#1a1a1a" stroke-width="0.32" textLength="104" lengthAdjust="spacingAndGlyphs">POMIESZCZENIE</text>
<text x="378.50" y="279.90" font-size="12.3" text-anchor="start" font-weight="normal" fill="#1a1a1a" stroke="#1a1a1a" stroke-width="0.32" textLength="79" lengthAdjust="spacingAndGlyphs">WARSZTATU</text>
<text x="330.50" y="296.30" font-size="12.3" text-anchor="start" font-weight="normal" fill="#1a1a1a" stroke="#1a1a1a" stroke-width="0.32">- 140.29</text>
<text x="379.60" y="296.30" font-size="12.3" text-anchor="start" font-weight="normal" fill="#1a1a1a" stroke="#1a1a1a" stroke-width="0.32">m²</text>
<text x="322.70" y="332.60" font-size="11" text-anchor="middle" font-weight="bold" fill="#1a1a1a" stroke="#1a1a1a" stroke-width="0.3">±</text>
<line x1="329.20" y1="321.90" x2="329.20" y2="347.80" stroke="#1a1a1a" stroke-width="1.16" stroke-linecap="butt"/>
<line x1="315.00" y1="334.60" x2="382.00" y2="335.40" stroke="#1a1a1a" stroke-width="1.16" stroke-linecap="butt"/>
<polyline points="315.00,334.60 329.30,347.80" fill="none" stroke="#1a1a1a" stroke-width="1.16" stroke-linejoin="miter"/>
<text x="335.60" y="332.80" font-size="11.0" text-anchor="start" font-weight="normal" fill="#1a1a1a" stroke="#1a1a1a" stroke-width="0.32">0.00</text>
<text x="333.60" y="346.60" font-size="11.0" text-anchor="start" font-weight="normal" fill="#1a1a1a" stroke="#1a1a1a" stroke-width="0.32" textLength="73" lengthAdjust="spacingAndGlyphs">15.60 m.n.p.m.</text>
<line x1="94.50" y1="458.40" x2="128.20" y2="458.40" stroke="#1a1a1a" stroke-width="1.3" stroke-linecap="butt"/>
<path d="M94.5,458.4 A33.7,33.6 0 0 0 128.2,492.0" fill="none" stroke="#1a1a1a" stroke-width="1.3" stroke-linecap="butt" stroke-linejoin="round"/>
<text x="130.20" y="474.00" font-size="5.6" text-anchor="middle" font-weight="normal" fill="#1a1a1a" stroke="#1a1a1a" stroke-width="0.42">90</text>
<line x1="118.60" y1="475.20" x2="141.90" y2="475.20" stroke="#1a1a1a" stroke-width="1.01" stroke-linecap="butt"/>
<text x="130.40" y="481.20" font-size="5.6" text-anchor="middle" font-weight="normal" fill="#1a1a1a" stroke="#1a1a1a" stroke-width="0.42">205</text>
<text x="142.50" y="484.80" font-size="7.2" text-anchor="start" font-weight="normal" fill="#1a1a1a" stroke="#1a1a1a" stroke-width="0.42" textLength="64" lengthAdjust="spacingAndGlyphs">gaśnica GP4 - ABC</text>
<circle cx="143.60" cy="508.20" r="3.30" fill="none" stroke="#1a1a1a" stroke-width="1.3"/>
<line x1="145.60" y1="505.40" x2="155.00" y2="487.00" stroke="#1a1a1a" stroke-width="1.16" stroke-linecap="butt"/>
<line x1="288.50" y1="521.50" x2="288.50" y2="593.50" stroke="#1a1a1a" stroke-width="1.3" stroke-linecap="butt"/>
<path d="M288.5,593.5 A72,72 0 0 0 360.9,523.5" fill="none" stroke="#1a1a1a" stroke-width="1.3" stroke-linecap="butt" stroke-linejoin="round"/>
<line x1="433.00" y1="519.00" x2="433.00" y2="591.50" stroke="#1a1a1a" stroke-width="1.3" stroke-linecap="butt"/>
<path d="M433,591.5 A71.5,71.5 0 0 1 361.6,523.5" fill="none" stroke="#1a1a1a" stroke-width="1.3" stroke-linecap="butt" stroke-linejoin="round"/>
<text x="359.60" y="507.50" font-size="5.8" text-anchor="middle" font-weight="normal" fill="#1a1a1a" stroke="#1a1a1a" stroke-width="0.42" transform="rotate(-90 359.60 507.50)">400</text>
<text x="367.20" y="507.50" font-size="5.8" text-anchor="middle" font-weight="normal" fill="#1a1a1a" stroke="#1a1a1a" stroke-width="0.42" transform="rotate(-90 367.20 507.50)">400</text>
<path d="M292.3,597.3 L287.6,611.9 L301.9,615.2" fill="none" stroke="#1a1a1a" stroke-width="2.12" stroke-linecap="round" stroke-linejoin="round"/>
<path d="M317.5,601 C311.5,600.2 308.6,605.5 309.6,609.5 C310.8,613.6 317.5,613.4 320,608.6 C321.8,604.6 320.5,600.6 316,601.4" fill="none" stroke="#1a1a1a" stroke-width="2.12" stroke-linecap="round" stroke-linejoin="round"/>
<path d="M325.5,600.3 L324.2,610.6 M334.3,598.3 L326.5,606.4 L334.3,610.6" fill="none" stroke="#1a1a1a" stroke-width="2.12" stroke-linecap="round" stroke-linejoin="round"/>
<path d="M346.6,610.9 L352.4,594.9 L356.8,610.9 M347.8,604.9 L356.4,603.9" fill="none" stroke="#1a1a1a" stroke-width="2.12" stroke-linecap="round" stroke-linejoin="round"/>
<path d="M364.5,597.3 L362.6,610.5 L373.5,609.9" fill="none" stroke="#1a1a1a" stroke-width="2.12" stroke-linecap="round" stroke-linejoin="round"/>
<path d="M387.4,601.9 L396.4,603.3" fill="none" stroke="#1a1a1a" stroke-width="2.0" stroke-linecap="round" stroke-linejoin="round"/>
<path d="M405.7,606.9 L417.0,596.7 L418.4,612.8" fill="none" stroke="#1a1a1a" stroke-width="2.12" stroke-linecap="round" stroke-linejoin="round"/>
<line x1="433.10" y1="78.00" x2="433.10" y2="111.40" stroke="#1a1a1a" stroke-width="1.16" stroke-linecap="butt"/>
<line x1="442.60" y1="78.00" x2="442.60" y2="111.40" stroke="#1a1a1a" stroke-width="1.16" stroke-linecap="butt"/>
<line x1="452.20" y1="78.00" x2="452.20" y2="111.40" stroke="#1a1a1a" stroke-width="1.16" stroke-linecap="butt"/>
<line x1="461.50" y1="78.00" x2="461.50" y2="111.40" stroke="#1a1a1a" stroke-width="1.16" stroke-linecap="butt"/>
<line x1="470.60" y1="78.00" x2="470.60" y2="111.40" stroke="#1a1a1a" stroke-width="1.16" stroke-linecap="butt"/>
<line x1="479.70" y1="78.00" x2="479.70" y2="111.40" stroke="#1a1a1a" stroke-width="1.16" stroke-linecap="butt"/>
<line x1="488.70" y1="78.00" x2="488.70" y2="111.40" stroke="#1a1a1a" stroke-width="1.16" stroke-linecap="butt"/>
<line x1="433.10" y1="111.40" x2="513.70" y2="111.40" stroke="#1a1a1a" stroke-width="1.16" stroke-linecap="butt"/>
<line x1="433.10" y1="94.60" x2="499.50" y2="94.60" stroke="#1a1a1a" stroke-width="1.16" stroke-linecap="butt"/>
<line x1="494.00" y1="78.00" x2="509.90" y2="111.40" stroke="#1a1a1a" stroke-width="1.88" stroke-linecap="butt"/>
<line x1="497.40" y1="78.00" x2="513.70" y2="111.40" stroke="#1a1a1a" stroke-width="1.88" stroke-linecap="butt"/>
<circle cx="433.10" cy="94.60" r="1.60" fill="none" stroke="#1a1a1a" stroke-width="1.16"/>
<line x1="493.30" y1="103.10" x2="498.80" y2="96.50" stroke="#1a1a1a" stroke-width="1.16" stroke-linecap="butt"/>
<polyline points="496.30,97.30 498.80,96.50 498.40,99.20" fill="none" stroke="#1a1a1a" stroke-width="1.01" stroke-linejoin="miter"/>
<text x="440.80" y="93.80" font-size="5.7" text-anchor="start" font-weight="bold" fill="#1a1a1a" stroke="#1a1a1a" stroke-width="0.3">10 x 18.5</text>
<text x="447.30" y="100.80" font-size="5.7" text-anchor="start" font-weight="bold" fill="#1a1a1a" stroke="#1a1a1a" stroke-width="0.3">25 0</text>
<line x1="514.10" y1="80.00" x2="514.10" y2="111.40" stroke="#1a1a1a" stroke-width="1.16" stroke-dasharray="4.5 3.5" stroke-linecap="butt"/>
<line x1="523.80" y1="97.00" x2="523.80" y2="111.40" stroke="#1a1a1a" stroke-width="1.16" stroke-dasharray="4.5 3.5" stroke-linecap="butt"/>
<line x1="514.00" y1="94.60" x2="534.00" y2="94.60" stroke="#1a1a1a" stroke-width="1.16" stroke-dasharray="4.5 3.5" stroke-linecap="butt"/>
<line x1="513.70" y1="111.40" x2="573.50" y2="111.40" stroke="#1a1a1a" stroke-width="1.16" stroke-dasharray="4.5 3.5" stroke-linecap="butt"/>
<line x1="541.30" y1="79.00" x2="541.30" y2="155.50" stroke="#1a1a1a" stroke-width="1.16" stroke-dasharray="4.5 3.5" stroke-linecap="butt"/>
<line x1="541.30" y1="155.50" x2="572.00" y2="155.50" stroke="#1a1a1a" stroke-width="1.16" stroke-dasharray="4.5 3.5" stroke-linecap="butt"/>
<polyline points="664.50,66.50 664.50,80.10" fill="none" stroke="#1a1a1a" stroke-width="2.12" stroke-linejoin="miter"/>
<polyline points="664.50,71.00 694.00,71.70 714.40,73.70 754.00,66.00" fill="none" stroke="#1a1a1a" stroke-width="2.12" stroke-linejoin="miter"/>
<polyline points="664.50,78.60 694.00,79.90 713.00,81.80 733.40,77.50 735.85,300.00" fill="none" stroke="#1a1a1a" stroke-width="2.12" stroke-linejoin="miter"/>
<polyline points="668.00,74.90 694.00,75.60 714.40,77.30 736.70,73.30 754.00,70.00" fill="none" stroke="#1a1a1a" stroke-width="1.09" stroke-dasharray="7 1.5 1.5 1.5" stroke-linejoin="miter"/>
<polyline points="733.17,77.50 733.54,108.55 733.92,139.60 734.29,170.65 734.67,201.70 735.04,232.75 735.41,263.80" fill="none" stroke="#1a1a1a" stroke-width="2.12" stroke-linejoin="miter"/>
<polyline points="735.46,267.80 735.95,308.13 736.44,348.47 736.92,388.80 737.41,429.13 737.89,469.47 738.38,509.80" fill="none" stroke="#1a1a1a" stroke-width="2.12" stroke-linejoin="miter"/>
<polyline points="741.93,75.60 743.08,148.00 744.23,220.40 745.38,292.80 746.53,365.20 747.69,437.60 748.84,510.00" fill="none" stroke="#1a1a1a" stroke-width="2.12" stroke-linejoin="miter"/>
<polyline points="741.93,75.60 754.00,73.30" fill="none" stroke="#1a1a1a" stroke-width="2.12" stroke-linejoin="miter"/>
<polyline points="737.54,76.00 738.56,148.83 739.58,221.67 740.60,294.50 741.62,367.33 742.63,440.17 743.65,513.00" fill="none" stroke="#1a1a1a" stroke-width="1.09" stroke-dasharray="7 1.5 1.5 1.5" stroke-linejoin="miter"/>
<line x1="742.70" y1="78.80" x2="754.00" y2="89.80" stroke="#1a1a1a" stroke-width="1.3" stroke-linecap="butt"/>
<line x1="742.90" y1="96.50" x2="754.00" y2="99.80" stroke="#1a1a1a" stroke-width="1.3" stroke-linecap="butt"/>
<line x1="743.20" y1="109.70" x2="754.00" y2="107.50" stroke="#1a1a1a" stroke-width="1.3" stroke-linecap="butt"/>
<line x1="743.40" y1="124.10" x2="754.00" y2="115.20" stroke="#1a1a1a" stroke-width="1.3" stroke-linecap="butt"/>
<line x1="743.60" y1="141.80" x2="754.00" y2="130.70" stroke="#1a1a1a" stroke-width="2.0" stroke-linecap="butt"/>
<line x1="743.60" y1="146.00" x2="754.00" y2="137.50" stroke="#1a1a1a" stroke-width="1.3" stroke-linecap="butt"/>
<line x1="743.80" y1="152.80" x2="754.00" y2="152.80" stroke="#1a1a1a" stroke-width="1.3" stroke-linecap="butt"/>
<polyline points="743.61,181.20 754.00,180.20" fill="none" stroke="#1a1a1a" stroke-width="2.12" stroke-linejoin="miter"/>
<polyline points="743.69,186.60 754.00,185.60" fill="none" stroke="#1a1a1a" stroke-width="2.12" stroke-linejoin="miter"/>
<rect x="745.40" y="194.60" width="10.00" height="16.00" fill="none" stroke="#1a1a1a" stroke-width="1.45"/>
<rect x="745.80" y="225.20" width="10.00" height="16.00" fill="none" stroke="#1a1a1a" stroke-width="1.45"/>
<polyline points="744.89,262.00 750.60,262.00 752.00,264.50 750.60,267.20 744.97,267.20" fill="none" stroke="#1a1a1a" stroke-width="2.12" stroke-linejoin="miter"/>
<line x1="749.20" y1="196.50" x2="749.20" y2="208.50" stroke="#1a1a1a" stroke-width="1.16" stroke-linecap="butt"/>
<line x1="749.60" y1="227.00" x2="749.60" y2="239.00" stroke="#1a1a1a" stroke-width="1.16" stroke-linecap="butt"/>
<polyline points="743.60,155.20 754.00,154.00" fill="none" stroke="#1a1a1a" stroke-width="1.16" stroke-linejoin="miter"/>
<polyline points="744.00,175.80 754.00,174.00" fill="none" stroke="#1a1a1a" stroke-width="1.16" stroke-linejoin="miter"/>
<circle cx="747.30" cy="163.60" r="1.70" fill="none" stroke="#1a1a1a" stroke-width="1.88"/>
<text x="748.00" y="351.00" font-size="7.3" text-anchor="start" font-weight="normal" fill="#1a1a1a" stroke="#1a1a1a" stroke-width="0.42">K</text>
<rect x="748.50" y="448.50" width="5.00" height="4.50" fill="none" stroke="#1a1a1a" stroke-width="1.3"/>
<rect x="749.50" y="503.00" width="5.00" height="4.50" fill="none" stroke="#1a1a1a" stroke-width="1.3"/>
<polyline points="748.84,510.00 754.00,510.30" fill="none" stroke="#1a1a1a" stroke-width="2.12" stroke-linejoin="miter"/>
<polyline points="557.20,78.90 557.20,70.50 600.60,70.82 600.60,79.22" fill="none" stroke="#1a1a1a" stroke-width="2.12" stroke-linejoin="miter"/>
<line x1="557.20" y1="65.70" x2="557.20" y2="70.50" stroke="#1a1a1a" stroke-width="0.87" stroke-linecap="butt"/>
<line x1="600.60" y1="66.02" x2="600.60" y2="70.82" stroke="#1a1a1a" stroke-width="0.87" stroke-linecap="butt"/>
<line x1="557.20" y1="78.90" x2="574.80" y2="79.03" stroke="#1a1a1a" stroke-width="2.12" stroke-linecap="butt"/>
<line x1="582.99" y1="79.09" x2="600.60" y2="79.22" stroke="#1a1a1a" stroke-width="2.12" stroke-linecap="butt"/>
<polyline points="561.00,75.03 573.00,75.12 585.00,75.21 597.00,75.30" fill="none" stroke="#1a1a1a" stroke-width="1.09" stroke-dasharray="7 1.5 1.5 1.5" stroke-linejoin="miter"/>
<polyline points="574.80,78.40 574.84,115.60 583.17,115.60 582.99,78.40" fill="none" stroke="#1a1a1a" stroke-width="2.12" stroke-linejoin="miter"/>
<line x1="578.90" y1="80.00" x2="579.01" y2="115.00" stroke="#1a1a1a" stroke-width="1.09" stroke-dasharray="7 1.5 1.5 1.5" stroke-linecap="butt"/>
<line x1="579.01" y1="116.00" x2="579.12" y2="151.00" stroke="#1a1a1a" stroke-width="1.01" stroke-dasharray="7 1.5 1.5 1.5" stroke-linecap="butt"/>
<line x1="579.57" y1="296.00" x2="579.67" y2="329.50" stroke="#1a1a1a" stroke-width="1.01" stroke-dasharray="7 1.5 1.5 1.5" stroke-linecap="butt"/>
<line x1="579.91" y1="405.00" x2="580.02" y2="440.00" stroke="#1a1a1a" stroke-width="1.01" stroke-dasharray="7 1.5 1.5 1.5" stroke-linecap="butt"/>
<line x1="541.30" y1="116.70" x2="574.84" y2="116.70" stroke="#1a1a1a" stroke-width="1.3" stroke-linecap="butt"/>
<path d="M541.3,116.7 A34,34 0 0 0 575.3,150.9" fill="none" stroke="#1a1a1a" stroke-width="1.3" stroke-linecap="butt" stroke-linejoin="round"/>
<text x="578.60" y="131.80" font-size="5.2" text-anchor="middle" font-weight="normal" fill="#1a1a1a" stroke="#1a1a1a" stroke-width="0.42">90</text>
<line x1="567.20" y1="133.20" x2="585.40" y2="133.20" stroke="#1a1a1a" stroke-width="1.01" stroke-linecap="butt"/>
<text x="578.60" y="138.90" font-size="5.2" text-anchor="middle" font-weight="normal" fill="#1a1a1a" stroke="#1a1a1a" stroke-width="0.42">205</text>
<polyline points="574.89,151.40 575.06,295.70 584.08,295.70" fill="none" stroke="#1a1a1a" stroke-width="2.12" stroke-linejoin="miter"/>
<polyline points="574.89,151.40 583.36,151.40 583.51,182.80" fill="none" stroke="#1a1a1a" stroke-width="2.12" stroke-linejoin="miter"/>
<line x1="583.53" y1="187.00" x2="583.73" y2="226.50" stroke="#1a1a1a" stroke-width="2.12" stroke-linecap="butt"/>
<line x1="583.75" y1="229.80" x2="583.92" y2="263.90" stroke="#1a1a1a" stroke-width="2.12" stroke-linecap="butt"/>
<line x1="583.94" y1="267.80" x2="584.08" y2="295.70" stroke="#1a1a1a" stroke-width="2.12" stroke-linecap="butt"/>
<line x1="579.12" y1="153.00" x2="579.57" y2="294.00" stroke="#1a1a1a" stroke-width="1.09" stroke-dasharray="7 1.5 1.5 1.5" stroke-linecap="butt"/>
<line x1="577.49" y1="153.00" x2="577.66" y2="294.00" stroke="#666" stroke-width="0.51" stroke-linecap="butt"/>
<line x1="580.96" y1="153.00" x2="581.68" y2="294.00" stroke="#666" stroke-width="0.51" stroke-linecap="butt"/>
<polyline points="575.10,330.20 584.25,330.20 584.48,376.00" fill="none" stroke="#1a1a1a" stroke-width="2.12" stroke-linejoin="miter"/>
<polyline points="584.50,379.80 584.62,404.50 575.19,404.50 575.10,330.20" fill="none" stroke="#1a1a1a" stroke-width="2.12" stroke-linejoin="miter"/>
<line x1="579.68" y1="331.00" x2="579.90" y2="403.00" stroke="#1a1a1a" stroke-width="1.09" stroke-dasharray="7 1.5 1.5 1.5" stroke-linecap="butt"/>
<line x1="577.70" y1="331.00" x2="577.79" y2="403.00" stroke="#666" stroke-width="0.51" stroke-linecap="butt"/>
<line x1="581.85" y1="331.00" x2="582.22" y2="403.00" stroke="#666" stroke-width="0.51" stroke-linecap="butt"/>
<polyline points="575.23,510.20 575.23,440.50 584.80,440.50 584.80,510.20" fill="none" stroke="#1a1a1a" stroke-width="2.12" stroke-linejoin="miter"/>
<line x1="575.23" y1="452.00" x2="584.80" y2="452.00" stroke="#1a1a1a" stroke-width="1.3" stroke-linecap="butt"/>
<line x1="580.02" y1="442.00" x2="580.02" y2="510.00" stroke="#1a1a1a" stroke-width="1.09" stroke-dasharray="7 1.5 1.5 1.5" stroke-linecap="butt"/>
<line x1="577.83" y1="452.00" x2="577.83" y2="510.00" stroke="#666" stroke-width="0.51" stroke-linecap="butt"/>
<line x1="582.40" y1="452.00" x2="582.40" y2="510.00" stroke="#666" stroke-width="0.51" stroke-linecap="butt"/>
<polyline points="575.23,510.20 558.40,510.20 558.40,518.80 603.60,518.80 603.60,510.20 584.80,510.20" fill="none" stroke="#1a1a1a" stroke-width="2.12" stroke-linejoin="miter"/>
<line x1="562.00" y1="514.40" x2="600.00" y2="514.40" stroke="#1a1a1a" stroke-width="1.09" stroke-dasharray="7 1.5 1.5 1.5" stroke-linecap="butt"/>
<polyline points="691.40,510.20 669.00,510.20 669.00,518.80 699.40,518.80 699.40,514.00 697.60,510.20 695.60,510.20" fill="none" stroke="#1a1a1a" stroke-width="2.12" stroke-linejoin="miter"/>
<line x1="672.00" y1="514.40" x2="696.00" y2="514.40" stroke="#1a1a1a" stroke-width="1.09" stroke-dasharray="7 1.5 1.5 1.5" stroke-linecap="butt"/>
<polyline points="732.40,518.80 732.40,510.30 738.38,510.30" fill="none" stroke="#1a1a1a" stroke-width="2.12" stroke-linejoin="miter"/>
<polyline points="732.40,518.80 754.00,518.80" fill="none" stroke="#1a1a1a" stroke-width="2.12" stroke-linejoin="miter"/>
<polyline points="748.88,513.00 748.88,510.50" fill="none" stroke="#1a1a1a" stroke-width="2.12" stroke-linejoin="miter"/>
<line x1="732.40" y1="521.80" x2="754.00" y2="521.80" stroke="#1a1a1a" stroke-width="1.01" stroke-linecap="butt"/>
<line x1="736.00" y1="514.50" x2="754.00" y2="514.50" stroke="#1a1a1a" stroke-width="1.09" stroke-dasharray="7 1.5 1.5 1.5" stroke-linecap="butt"/>
<polyline points="583.51,182.80 664.00,182.30 711.50,183.20 734.42,180.90" fill="none" stroke="#1a1a1a" stroke-width="2.12" stroke-linejoin="miter"/>
<polyline points="583.53,187.00 639.20,187.00 639.20,193.50 642.20,193.50 642.20,187.60 664.00,187.50 718.60,188.00 734.47,185.20" fill="none" stroke="#1a1a1a" stroke-width="2.12" stroke-linejoin="miter"/>
<polyline points="583.73,226.60 639.20,226.60 639.20,224.50 642.20,224.50 642.20,231.40 639.20,231.40 639.20,229.80 583.75,229.80" fill="none" stroke="#1a1a1a" stroke-width="1.45" stroke-linejoin="miter"/>
<polyline points="583.92,263.90 694.50,263.90 696.00,265.50 696.00,267.80 694.60,267.80 694.60,294.00 693.50,295.70 689.80,295.70 688.80,294.00 688.80,267.80 583.94,267.80" fill="none" stroke="#1a1a1a" stroke-width="2.12" stroke-linejoin="miter"/>
<polyline points="735.42,263.80 728.40,263.80 726.90,265.80 728.40,267.80 735.47,267.80" fill="none" stroke="#1a1a1a" stroke-width="2.12" stroke-linejoin="miter"/>
<polyline points="584.48,376.00 689.20,376.00 689.20,329.60 694.60,329.60 694.60,404.50 689.20,404.50 689.20,379.80 584.50,379.80" fill="none" stroke="#1a1a1a" stroke-width="2.12" stroke-linejoin="miter"/>
<polyline points="691.40,510.20 691.40,440.50 695.80,440.50 695.80,510.20" fill="none" stroke="#1a1a1a" stroke-width="2.12" stroke-linejoin="miter"/>
<rect x="695.80" y="448.90" width="4.60" height="4.20" fill="none" stroke="#1a1a1a" stroke-width="1.3"/>
<polyline points="737.65,449.80 731.80,449.80" fill="none" stroke="#1a1a1a" stroke-width="2.12" stroke-linejoin="miter"/>
<rect x="731.00" y="448.50" width="5.60" height="4.40" fill="none" stroke="#1a1a1a" stroke-width="1.3"/>
<path d="M642.2,194.4 L670,194.9 M670,194.9 A27.8,29.5 0 0 1 642.2,224.5" fill="none" stroke="#1a1a1a" stroke-width="1.3" stroke-linecap="butt" stroke-linejoin="round"/>
<path d="M641.5,261.4 L670.4,261.4 M670.4,261.4 A28.9,30 0 0 0 641.5,231.4" fill="none" stroke="#1a1a1a" stroke-width="1.3" stroke-linecap="butt" stroke-linejoin="round"/>
<path d="M542.1,329.4 L575,329.4 M542.1,329.4 A33.0,33.2 0 0 1 575.1,296.2" fill="none" stroke="#1a1a1a" stroke-width="1.3" stroke-linecap="butt" stroke-linejoin="round"/>
<path d="M657.4,328.4 L689.2,329.0 M657.4,328.4 A36,32.6 0 0 1 693.4,295.8" fill="none" stroke="#1a1a1a" stroke-width="1.3" stroke-linecap="butt" stroke-linejoin="round"/>
<path d="M726.9,267.8 L726.9,300.5 M726.9,300.5 A31,32.7 0 0 1 696,267.8" fill="none" stroke="#1a1a1a" stroke-width="1.3" stroke-linecap="butt" stroke-linejoin="round"/>
<path d="M542.3,406.5 L575.4,406.5 M542.3,406.5 A33.2,33.8 0 0 0 575.4,440.3" fill="none" stroke="#1a1a1a" stroke-width="1.3" stroke-linecap="butt" stroke-linejoin="round"/>
<path d="M657.6,405.0 L689.2,405.0 M658.2,410 A33.4,30.5 0 0 0 691.6,440.5" fill="none" stroke="#1a1a1a" stroke-width="1.3" stroke-linecap="butt" stroke-linejoin="round"/>
<path d="M732.0,452.8 L732.0,486 M732.0,487.0 A32.6,35.2 0 0 1 699.4,451.8" fill="none" stroke="#1a1a1a" stroke-width="1.3" stroke-linecap="butt" stroke-linejoin="round"/>
<path d="M730.5,518.8 L730.5,551.5 M730.5,551.5 A31,33 0 0 1 699.5,518.8" fill="none" stroke="#1a1a1a" stroke-width="1.3" stroke-linecap="butt" stroke-linejoin="round"/>
<text x="646.50" y="208.10" font-size="5.2" text-anchor="middle" font-weight="normal" fill="#1a1a1a" stroke="#1a1a1a" stroke-width="0.42">80</text>
<line x1="629.10" y1="209.50" x2="650.80" y2="209.50" stroke="#1a1a1a" stroke-width="1.01" stroke-linecap="butt"/>
<text x="646.50" y="215.10" font-size="5.2" text-anchor="middle" font-weight="normal" fill="#1a1a1a" stroke="#1a1a1a" stroke-width="0.42">205</text>
<text x="646.50" y="246.20" font-size="5.2" text-anchor="middle" font-weight="normal" fill="#1a1a1a" stroke="#1a1a1a" stroke-width="0.42">80</text>
<line x1="629.10" y1="247.60" x2="650.80" y2="247.60" stroke="#1a1a1a" stroke-width="1.01" stroke-linecap="butt"/>
<text x="646.50" y="253.20" font-size="5.2" text-anchor="middle" font-weight="normal" fill="#1a1a1a" stroke="#1a1a1a" stroke-width="0.42">205</text>
<text x="578.90" y="312.40" font-size="5.2" text-anchor="middle" font-weight="normal" fill="#1a1a1a" stroke="#1a1a1a" stroke-width="0.42">90</text>
<line x1="565.20" y1="313.80" x2="588.00" y2="313.80" stroke="#1a1a1a" stroke-width="1.01" stroke-linecap="butt"/>
<text x="578.90" y="319.40" font-size="5.2" text-anchor="middle" font-weight="normal" fill="#1a1a1a" stroke="#1a1a1a" stroke-width="0.42">205</text>
<text x="693.30" y="312.20" font-size="5.2" text-anchor="middle" font-weight="normal" fill="#1a1a1a" stroke="#1a1a1a" stroke-width="0.42">90</text>
<line x1="680.30" y1="313.60" x2="706.00" y2="313.60" stroke="#1a1a1a" stroke-width="1.01" stroke-linecap="butt"/>
<text x="693.30" y="319.20" font-size="5.2" text-anchor="middle" font-weight="normal" fill="#1a1a1a" stroke="#1a1a1a" stroke-width="0.42">205</text>
<text x="579.20" y="421.40" font-size="5.2" text-anchor="middle" font-weight="normal" fill="#1a1a1a" stroke="#1a1a1a" stroke-width="0.42">90</text>
<line x1="567.00" y1="422.80" x2="589.40" y2="422.80" stroke="#1a1a1a" stroke-width="1.01" stroke-linecap="butt"/>
<text x="579.20" y="428.40" font-size="5.2" text-anchor="middle" font-weight="normal" fill="#1a1a1a" stroke="#1a1a1a" stroke-width="0.42">205</text>
<text x="693.20" y="421.40" font-size="5.2" text-anchor="middle" font-weight="normal" fill="#1a1a1a" stroke="#1a1a1a" stroke-width="0.42">90</text>
<line x1="681.20" y1="422.80" x2="706.00" y2="422.80" stroke="#1a1a1a" stroke-width="1.01" stroke-linecap="butt"/>
<text x="693.20" y="428.40" font-size="5.2" text-anchor="middle" font-weight="normal" fill="#1a1a1a" stroke="#1a1a1a" stroke-width="0.42">205</text>
<line x1="712.00" y1="256.10" x2="712.00" y2="278.00" stroke="#1a1a1a" stroke-width="1.01" stroke-linecap="butt"/>
<text x="707.60" y="266.60" font-size="5.4" text-anchor="middle" font-weight="normal" fill="#1a1a1a" stroke="#1a1a1a" stroke-width="0.42" transform="rotate(90 707.60 266.60)">205</text>
<text x="713.80" y="266.00" font-size="5.4" text-anchor="middle" font-weight="normal" fill="#1a1a1a" stroke="#1a1a1a" stroke-width="0.42" transform="rotate(90 713.80 266.00)">90</text>
<line x1="716.60" y1="440.40" x2="716.60" y2="462.20" stroke="#1a1a1a" stroke-width="1.01" stroke-linecap="butt"/>
<text x="715.00" y="452.20" font-size="5.2" text-anchor="middle" font-weight="normal" fill="#1a1a1a" stroke="#1a1a1a" stroke-width="0.42" transform="rotate(-90 715.00 452.20)">90</text>
<text x="721.80" y="451.20" font-size="5.2" text-anchor="middle" font-weight="normal" fill="#1a1a1a" stroke="#1a1a1a" stroke-width="0.42" transform="rotate(-90 721.80 451.20)">205</text>
<line x1="716.60" y1="505.70" x2="716.60" y2="527.40" stroke="#1a1a1a" stroke-width="1.01" stroke-linecap="butt"/>
<text x="712.00" y="517.50" font-size="5.0" text-anchor="middle" font-weight="normal" fill="#1a1a1a" stroke="#1a1a1a" stroke-width="0.42" transform="rotate(90 712.00 517.50)">205</text>
<text x="718.00" y="515.50" font-size="5.0" text-anchor="middle" font-weight="normal" fill="#1a1a1a" stroke="#1a1a1a" stroke-width="0.42" transform="rotate(90 718.00 515.50)">90</text>
<line x1="656.30" y1="81.90" x2="656.55" y2="106.30" stroke="#1a1a1a" stroke-width="2.3" stroke-linecap="butt"/>
<line x1="656.20" y1="136.10" x2="656.45" y2="158.90" stroke="#1a1a1a" stroke-width="2.3" stroke-linecap="butt"/>
<line x1="656.60" y1="190.90" x2="656.85" y2="214.40" stroke="#1a1a1a" stroke-width="2.3" stroke-linecap="butt"/>
<line x1="657.00" y1="246.00" x2="657.25" y2="267.80" stroke="#1a1a1a" stroke-width="2.3" stroke-linecap="butt"/>
<line x1="657.00" y1="300.70" x2="657.25" y2="327.50" stroke="#1a1a1a" stroke-width="2.3" stroke-linecap="butt"/>
<line x1="657.70" y1="357.20" x2="657.95" y2="379.80" stroke="#1a1a1a" stroke-width="2.3" stroke-linecap="butt"/>
<line x1="658.00" y1="411.00" x2="658.25" y2="434.30" stroke="#1a1a1a" stroke-width="2.3" stroke-linecap="butt"/>
<line x1="659.00" y1="466.40" x2="659.25" y2="494.10" stroke="#1a1a1a" stroke-width="2.3" stroke-linecap="butt"/>
<line x1="659.50" y1="522.70" x2="659.75" y2="545.20" stroke="#1a1a1a" stroke-width="2.3" stroke-linecap="butt"/>
<polyline points="655.50,50.40 655.50,30.80 677.00,30.80 666.00,41.00" fill="none" stroke="#1a1a1a" stroke-width="2.7" stroke-linejoin="round"/>
<text x="660.50" y="60.70" font-size="24.2" text-anchor="start" font-weight="normal" fill="#1a1a1a" stroke="#1a1a1a" stroke-width="0.32">b</text>
<polyline points="660.60,578.20 660.60,598.30 682.60,598.30 671.80,587.60" fill="none" stroke="#1a1a1a" stroke-width="2.8" stroke-linejoin="round"/>
<text x="669.10" y="581.50" font-size="24.4" text-anchor="start" font-weight="normal" fill="#1a1a1a" stroke="#1a1a1a" stroke-width="0.32">b</text>
<text x="621.00" y="118.70" font-size="7.25" text-anchor="start" font-weight="normal" fill="#1a1a1a" stroke="#1a1a1a" stroke-width="0.42" textLength="79.2" lengthAdjust="spacingAndGlyphs">POM. GOSPODARCZE</text>
<text x="640.50" y="130.00" font-size="7.25" text-anchor="start" font-weight="normal" fill="#1a1a1a" stroke="#1a1a1a" stroke-width="0.42">- 12.00 m²</text>
<text x="669.90" y="225.00" font-size="7.25" text-anchor="start" font-weight="normal" fill="#1a1a1a" stroke="#1a1a1a" stroke-width="0.42" textLength="43.5" lengthAdjust="spacingAndGlyphs">POM. SANIT.</text>
<text x="678.20" y="236.20" font-size="7.25" text-anchor="start" font-weight="normal" fill="#1a1a1a" stroke="#1a1a1a" stroke-width="0.42">- 8.65 m²</text>
<text x="602.70" y="307.20" font-size="7.25" text-anchor="start" font-weight="normal" fill="#1a1a1a" stroke="#1a1a1a" stroke-width="0.42" textLength="50.8" lengthAdjust="spacingAndGlyphs">POM. SOCJAL.</text>
<text x="613.70" y="318.20" font-size="7.25" text-anchor="start" font-weight="normal" fill="#1a1a1a" stroke="#1a1a1a" stroke-width="0.42">- 8.35 m²</text>
<text x="696.50" y="351.10" font-size="7.25" text-anchor="start" font-weight="normal" fill="#1a1a1a" stroke="#1a1a1a" stroke-width="0.42" textLength="40" lengthAdjust="spacingAndGlyphs">KORYTARZ</text>
<text x="702.70" y="362.30" font-size="7.25" text-anchor="start" font-weight="normal" fill="#1a1a1a" stroke="#1a1a1a" stroke-width="0.42">- 5.88 m²</text>
<text x="611.40" y="421.80" font-size="7.25" text-anchor="start" font-weight="normal" fill="#1a1a1a" stroke="#1a1a1a" stroke-width="0.42" textLength="41" lengthAdjust="spacingAndGlyphs">POM. BIUR.</text>
<text x="618.00" y="432.90" font-size="7.25" text-anchor="start" font-weight="normal" fill="#1a1a1a" stroke="#1a1a1a" stroke-width="0.42">- 10.08 m²</text>
<text x="627.30" y="472.60" font-size="7.7" text-anchor="start" font-weight="normal" fill="#1a1a1a" stroke="#1a1a1a" stroke-width="0.42" textLength="54.6" lengthAdjust="spacingAndGlyphs">PRZEDSIONEK</text>
<line x1="622.50" y1="475.30" x2="714.90" y2="474.90" stroke="#1a1a1a" stroke-width="1.01" stroke-linecap="butt"/>
<text x="636.90" y="483.40" font-size="7.25" text-anchor="start" font-weight="normal" fill="#1a1a1a" stroke="#1a1a1a" stroke-width="0.42">- 1.81 m²</text>
<text x="625.80" y="490.60" font-size="7.0" text-anchor="start" font-weight="normal" fill="#1a1a1a" stroke="#1a1a1a" stroke-width="0.42" textLength="63.2" lengthAdjust="spacingAndGlyphs">pożarowy wyłącznik</text>
<text x="626.50" y="499.60" font-size="7.0" text-anchor="start" font-weight="normal" fill="#1a1a1a" stroke="#1a1a1a" stroke-width="0.42" textLength="27" lengthAdjust="spacingAndGlyphs">zasilania</text>
<text x="702.10" y="492.40" font-size="5.9" text-anchor="start" font-weight="normal" fill="#1a1a1a" stroke="#1a1a1a" stroke-width="0.42" textLength="33.6" lengthAdjust="spacingAndGlyphs">gaśnica GP4-</text>
<text x="702.40" y="499.20" font-size="5.9" text-anchor="start" font-weight="normal" fill="#1a1a1a" stroke="#1a1a1a" stroke-width="0.42">ABC</text>
<line x1="686.70" y1="489.60" x2="696.70" y2="498.60" stroke="#1a1a1a" stroke-width="1.01" stroke-linecap="butt"/>
<rect x="696.30" y="497.20" width="2.80" height="6.20" fill="none" stroke="#1a1a1a" stroke-width="1.16"/>
<line x1="716.40" y1="492.80" x2="733.00" y2="500.20" stroke="#1a1a1a" stroke-width="1.16" stroke-linecap="butt"/>
<circle cx="734.70" cy="501.50" r="3.00" fill="none" stroke="#1a1a1a" stroke-width="1.3"/>
<polyline points="583.42,164.30 700.00,164.90 754.00,166.60" fill="none" stroke="#1a1a1a" stroke-width="1.01" stroke-linejoin="miter"/>
<line x1="638.70" y1="155.20" x2="638.70" y2="173.50" stroke="#1a1a1a" stroke-width="1.01" stroke-linecap="butt"/>
<line x1="641.60" y1="155.20" x2="641.60" y2="173.50" stroke="#1a1a1a" stroke-width="1.01" stroke-linecap="butt"/>
<circle cx="583.42" cy="164.30" r="1.4" fill="#1a1a1a"/>
<circle cx="640.20" cy="164.40" r="1.8" fill="#1a1a1a"/>
<text x="611.40" y="160.30" font-size="10.2" text-anchor="middle" font-weight="normal" fill="#1a1a1a" stroke="#1a1a1a" stroke-width="0.32">153</text>
<text x="654.30" y="160.40" font-size="10.2" text-anchor="middle" font-weight="normal" fill="#1a1a1a" stroke="#1a1a1a" stroke-width="0.32">8</text>
<text x="688.40" y="160.80" font-size="10.2" text-anchor="middle" font-weight="normal" fill="#1a1a1a" stroke="#1a1a1a" stroke-width="0.32">265</text>
<rect x="708.10" y="164.90" width="5.40" height="5.40" fill="none" stroke="#1a1a1a" stroke-width="1.3"/>
<line x1="708.10" y1="164.90" x2="706.20" y2="163.00" stroke="#1a1a1a" stroke-width="1.3" stroke-linecap="butt"/>
<line x1="713.50" y1="164.90" x2="715.40" y2="163.00" stroke="#1a1a1a" stroke-width="1.3" stroke-linecap="butt"/>
<line x1="708.10" y1="170.30" x2="706.20" y2="172.20" stroke="#1a1a1a" stroke-width="1.3" stroke-linecap="butt"/>
<line x1="713.50" y1="170.30" x2="715.40" y2="172.20" stroke="#1a1a1a" stroke-width="1.3" stroke-linecap="butt"/>
<rect x="619.80" y="202.60" width="5.40" height="5.40" fill="none" stroke="#1a1a1a" stroke-width="1.3"/>
<line x1="619.80" y1="202.60" x2="617.90" y2="200.70" stroke="#1a1a1a" stroke-width="1.3" stroke-linecap="butt"/>
<line x1="625.20" y1="202.60" x2="627.10" y2="200.70" stroke="#1a1a1a" stroke-width="1.3" stroke-linecap="butt"/>
<line x1="619.80" y1="208.00" x2="617.90" y2="209.90" stroke="#1a1a1a" stroke-width="1.3" stroke-linecap="butt"/>
<line x1="625.20" y1="208.00" x2="627.10" y2="209.90" stroke="#1a1a1a" stroke-width="1.3" stroke-linecap="butt"/>
<rect x="593.40" y="242.70" width="6.00" height="6.00" fill="none" stroke="#1a1a1a" stroke-width="1.3"/>
<line x1="593.40" y1="242.70" x2="591.20" y2="240.50" stroke="#1a1a1a" stroke-width="1.3" stroke-linecap="butt"/>
<line x1="599.40" y1="242.70" x2="601.60" y2="240.50" stroke="#1a1a1a" stroke-width="1.3" stroke-linecap="butt"/>
<line x1="593.40" y1="248.70" x2="591.20" y2="250.90" stroke="#1a1a1a" stroke-width="1.3" stroke-linecap="butt"/>
<line x1="599.40" y1="248.70" x2="601.60" y2="250.90" stroke="#1a1a1a" stroke-width="1.3" stroke-linecap="butt"/>
<path d="M688,176.5 l2,3.2 M693.5,175.5 l-1.6,4.8 l-1.2,-1.6" fill="none" stroke="#1a1a1a" stroke-width="1.16" stroke-linecap="butt" stroke-linejoin="round"/>
<path d="M616.9,189.2 Q622.5,187 628.2,189.2 L622.6,199.6 Z M619,190.5 L623.5,198 M621.3,189.6 L624.7,195.6 M626.2,190.5 L621.6,198 M623.8,189.6 L620.4,195.6" fill="none" stroke="#1a1a1a" stroke-width="1.01" stroke-linecap="butt" stroke-linejoin="round"/>
<path d="M617.5,218.5 L616.5,235.5 M611.5,221.5 L622.5,232.5 M622,222 L612.5,232.2" fill="none" stroke="#444" stroke-width="0.87" stroke-linecap="butt" stroke-linejoin="round"/>
<path d="M617.7,252.9 L605.7,279.8 M607.8,269.8 L612.6,276.8" fill="none" stroke="#444" stroke-width="0.87" stroke-linecap="butt" stroke-linejoin="round"/>
<path d="M586.5,202.3 H600.5 Q608.4,203 608.4,209.6 Q608.4,216.4 600.5,217 H586.5 Z M589,202.3 V217 M593,203.3 V216" fill="none" stroke="#1a1a1a" stroke-width="1.3" stroke-linecap="butt" stroke-linejoin="round"/>
<path d="M574.6,199 Q563.6,200 562.6,209.6 Q563.6,219.4 574.6,220.4 M574.6,201.2 Q566.4,202.3 565.6,209.6 Q566.4,217 574.6,218.2" fill="none" stroke="#1a1a1a" stroke-width="1.3" stroke-linecap="butt" stroke-linejoin="round"/>
<rect x="556.20" y="206.60" width="4.40" height="6.20" fill="none" stroke="#1a1a1a" stroke-width="1.3"/>
<line x1="560.60" y1="209.60" x2="562.60" y2="209.60" stroke="#1a1a1a" stroke-width="1.16" stroke-linecap="butt"/>
<line x1="569.50" y1="207.50" x2="569.50" y2="211.80" stroke="#1a1a1a" stroke-width="1.01" stroke-linecap="butt"/>
<path d="M734.7,194.6 C725.7,194.6 721.1,198.4 721.1,203.4 C721.1,208.4 725.7,212.20000000000002 734.7,212.20000000000002" fill="none" stroke="#1a1a1a" stroke-width="1.62" stroke-linecap="butt" stroke-linejoin="round"/>
<line x1="729.49" y1="195.20" x2="729.49" y2="211.60" stroke="#1a1a1a" stroke-width="1.16" stroke-linecap="butt"/>
<line x1="726.29" y1="203.40" x2="732.09" y2="203.40" stroke="#1a1a1a" stroke-width="1.16" stroke-linecap="butt"/>
<path d="M735.0,224.7 C726.0,224.7 721.4,228.5 721.4,233.5 C721.4,238.5 726.0,242.3 735.0,242.3" fill="none" stroke="#1a1a1a" stroke-width="1.62" stroke-linecap="butt" stroke-linejoin="round"/>
<line x1="729.85" y1="225.30" x2="729.85" y2="241.70" stroke="#1a1a1a" stroke-width="1.16" stroke-linecap="butt"/>
<line x1="726.65" y1="233.50" x2="732.45" y2="233.50" stroke="#1a1a1a" stroke-width="1.16" stroke-linecap="butt"/>
<path d="M720,158.6 L734.4,155.6 M720,158.6 L721.6,177.2 L735,175.2" fill="none" stroke="#1a1a1a" stroke-width="1.3" stroke-linecap="butt" stroke-linejoin="round"/>
<circle cx="729.40" cy="166.20" r="1.70" fill="none" stroke="#1a1a1a" stroke-width="1.88"/>
<line x1="584.04" y1="289.70" x2="637.60" y2="289.70" stroke="#1a1a1a" stroke-width="1.3" stroke-linecap="butt"/>
<rect x="592.80" y="269.80" width="10.90" height="18.90" fill="none" stroke="#1a1a1a" stroke-width="1.16"/>
<circle cx="597.90" cy="284.20" r="3.00" fill="none" stroke="#1a1a1a" stroke-width="1.16"/>
<line x1="604.90" y1="268.00" x2="604.90" y2="289.50" stroke="#1a1a1a" stroke-width="1.01" stroke-linecap="butt"/>
<rect x="620.6" y="269.8" width="17" height="18.9" rx="2" fill="none" stroke="#1a1a1a" stroke-width="0.9"/>
<rect x="622.7" y="271.8" width="12.9" height="14.9" rx="2.2" fill="none" stroke="#1a1a1a" stroke-width="0.8"/>
<circle cx="628.00" cy="274.30" r="0.8" fill="#1a1a1a"/>
<rect x="644.50" y="269.80" width="42.80" height="18.90" fill="none" stroke="#1a1a1a" stroke-width="1.3"/>
<line x1="665.90" y1="269.80" x2="665.90" y2="288.70" stroke="#1a1a1a" stroke-width="1.3" stroke-linecap="butt"/>
<line x1="644.50" y1="288.70" x2="653.06" y2="269.80" stroke="#1a1a1a" stroke-width="1.16" stroke-linecap="butt"/>
<line x1="656.91" y1="288.70" x2="665.90" y2="269.80" stroke="#1a1a1a" stroke-width="1.16" stroke-linecap="butt"/>
<text x="654.6" y="279.8" font-size="3.9" font-weight="bold" text-anchor="middle" transform="rotate(-90 654.6 279.8)" fill="#1a1a1a">60x60</text>
<text x="657.9" y="279.8" font-size="3.9" font-weight="bold" text-anchor="middle" transform="rotate(-90 657.9 279.8)" fill="#1a1a1a">60x60</text>
<line x1="665.90" y1="288.70" x2="674.46" y2="269.80" stroke="#1a1a1a" stroke-width="1.16" stroke-linecap="butt"/>
<line x1="678.31" y1="288.70" x2="687.30" y2="269.80" stroke="#1a1a1a" stroke-width="1.16" stroke-linecap="butt"/>
<text x="676.0" y="279.8" font-size="3.9" font-weight="bold" text-anchor="middle" transform="rotate(-90 676.0 279.8)" fill="#1a1a1a">60x60</text>
<text x="679.3" y="279.8" font-size="3.9" font-weight="bold" text-anchor="middle" transform="rotate(-90 679.3 279.8)" fill="#1a1a1a">60x60</text>
<rect x="645.30" y="356.00" width="42.40" height="17.60" fill="none" stroke="#1a1a1a" stroke-width="1.3"/>
<line x1="666.50" y1="356.00" x2="666.50" y2="373.60" stroke="#1a1a1a" stroke-width="1.3" stroke-linecap="butt"/>
<line x1="645.30" y1="373.60" x2="653.78" y2="356.00" stroke="#1a1a1a" stroke-width="1.16" stroke-linecap="butt"/>
<line x1="657.60" y1="373.60" x2="666.50" y2="356.00" stroke="#1a1a1a" stroke-width="1.16" stroke-linecap="butt"/>
<text x="655.3" y="365.3" font-size="3.9" font-weight="bold" text-anchor="middle" transform="rotate(-90 655.3 365.3)" fill="#1a1a1a">60x60</text>
<text x="658.6" y="365.3" font-size="3.9" font-weight="bold" text-anchor="middle" transform="rotate(-90 658.6 365.3)" fill="#1a1a1a">60x60</text>
<line x1="666.50" y1="373.60" x2="674.98" y2="356.00" stroke="#1a1a1a" stroke-width="1.16" stroke-linecap="butt"/>
<line x1="678.80" y1="373.60" x2="687.70" y2="356.00" stroke="#1a1a1a" stroke-width="1.16" stroke-linecap="butt"/>
<text x="676.5" y="365.3" font-size="3.9" font-weight="bold" text-anchor="middle" transform="rotate(-90 676.5 365.3)" fill="#1a1a1a">60x60</text>
<text x="679.8" y="365.3" font-size="3.9" font-weight="bold" text-anchor="middle" transform="rotate(-90 679.8 365.3)" fill="#1a1a1a">60x60</text>
<rect x="603.50" y="335.50" width="21.80" height="39.20" fill="none" stroke="#1a1a1a" stroke-width="1.16"/>
<circle cx="594.50" cy="342.30" r="6.60" fill="none" stroke="#1a1a1a" stroke-width="1.16"/>
<circle cx="594.50" cy="364.80" r="6.60" fill="none" stroke="#1a1a1a" stroke-width="1.16"/>
<circle cx="633.50" cy="342.30" r="6.60" fill="none" stroke="#1a1a1a" stroke-width="1.16"/>
<circle cx="633.50" cy="364.80" r="6.60" fill="none" stroke="#1a1a1a" stroke-width="1.16"/>
<line x1="692.00" y1="381.60" x2="704.00" y2="380.20" stroke="#444" stroke-width="1.01" stroke-dasharray="3 2" stroke-linecap="butt"/>
<polyline points="312.00,0.00 376.00,3.60 564.00,5.80 715.00,8.90 754.00,2.60" fill="none" stroke="#1a1a1a" stroke-width="1.16" stroke-linejoin="miter"/>
<line x1="574.60" y1="0.00" x2="574.60" y2="12.80" stroke="#1a1a1a" stroke-width="1.16" stroke-linecap="butt"/>
<circle cx="574.60" cy="5.20" r="1.1" fill="#1a1a1a"/>
<line x1="583.10" y1="0.00" x2="583.10" y2="12.80" stroke="#1a1a1a" stroke-width="1.16" stroke-linecap="butt"/>
<circle cx="583.10" cy="5.40" r="1.1" fill="#1a1a1a"/>
<line x1="731.60" y1="0.00" x2="731.60" y2="11.40" stroke="#1a1a1a" stroke-width="1.16" stroke-linecap="butt"/>
<circle cx="731.60" cy="5.80" r="1.1" fill="#1a1a1a"/>
<line x1="741.00" y1="0.00" x2="741.00" y2="11.40" stroke="#1a1a1a" stroke-width="1.16" stroke-linecap="butt"/>
<circle cx="741.00" cy="4.40" r="1.1" fill="#1a1a1a"/>
<text x="599.50" y="1.20" font-size="10" text-anchor="middle" font-weight="normal" fill="#1a1a1a" stroke="#1a1a1a" stroke-width="0.32">24</text>
<text x="660.50" y="2.00" font-size="10" text-anchor="middle" font-weight="normal" fill="#1a1a1a" stroke="#1a1a1a" stroke-width="0.32">120</text>
<text x="393.00" y="0.20" font-size="10" text-anchor="middle" font-weight="normal" fill="#1a1a1a" stroke="#1a1a1a" stroke-width="0.32">24</text>
<line x1="542.30" y1="111.30" x2="558.40" y2="82.80" stroke="#1a1a1a" stroke-width="1.3" stroke-dasharray="5 3.5" stroke-linecap="butt"/>
<polyline points="542.30,107.80 542.30,111.30 545.40,110.20" fill="none" stroke="#1a1a1a" stroke-width="1.16" stroke-linejoin="miter"/>
<path d="M547.4,99.5 L553.7,100.9 L550.8,105.6" fill="none" stroke="#1a1a1a" stroke-width="1.3" stroke-linecap="butt" stroke-linejoin="round"/>
<line x1="558.40" y1="109.90" x2="564.10" y2="98.50" stroke="#1a1a1a" stroke-width="1.3" stroke-dasharray="5 3" stroke-linecap="butt"/>
<polyline points="561.60,100.20 564.10,98.50 564.40,101.60" fill="none" stroke="#1a1a1a" stroke-width="1.16" stroke-linejoin="miter"/>
<path d="M558.4,107.7 L561.2,110.6" fill="none" stroke="#1a1a1a" stroke-width="1.3" stroke-linecap="butt" stroke-linejoin="round"/>
<line x1="532.00" y1="85.00" x2="532.00" y2="111.30" stroke="#1a1a1a" stroke-width="1.16" stroke-dasharray="4 3" stroke-linecap="butt"/>
<path d="M0,185.5 Q6,186.5 10.2,190.5" fill="none" stroke="#333" stroke-width="1.3" stroke-linecap="butt" stroke-linejoin="round"/>
<path d="M0,190.5 Q4.5,191.5 8,194.5" fill="none" stroke="#333" stroke-width="1.16" stroke-linecap="butt" stroke-linejoin="round"/>
<path d="M0,321.5 Q6.5,321 11.2,318" fill="none" stroke="#333" stroke-width="1.3" stroke-linecap="butt" stroke-linejoin="round"/>
<path d="M0,316 Q4.5,316 8.6,313.6" fill="none" stroke="#333" stroke-width="1.16" stroke-linecap="butt" stroke-linejoin="round"/>
<text x="1.20" y="209.00" font-size="8.5" text-anchor="start" font-weight="normal" fill="#333" stroke="#333" stroke-width="0.42">R</text>
<path d="M0,214 L9.5,212.5 M8.8,196 L9.6,212" fill="none" stroke="#333" stroke-width="1.16" stroke-linecap="butt" stroke-linejoin="round"/>
<line x1="1.2" y1="240.6" x2="0.6" y2="241.9" stroke="#3a3a3a" stroke-width="1.13" stroke-linecap="round"/>
<line x1="4.2" y1="221.2" x2="6.5" y2="221.5" stroke="#3a3a3a" stroke-width="1.02" stroke-linecap="round"/>
<line x1="0.5" y1="257.2" x2="0.0" y2="260.8" stroke="#3a3a3a" stroke-width="1.32" stroke-linecap="round"/>
<line x1="8.0" y1="246.0" x2="9.0" y2="246.5" stroke="#5a5a5a" stroke-width="1.18" stroke-linecap="round"/>
<line x1="4.7" y1="256.5" x2="4.1" y2="259.4" stroke="#3a3a3a" stroke-width="1.32" stroke-linecap="round"/>
<line x1="3.1" y1="263.6" x2="2.9" y2="265.0" stroke="#3a3a3a" stroke-width="1.36" stroke-linecap="round"/>
<line x1="4.4" y1="253.2" x2="2.5" y2="254.8" stroke="#2e2e2e" stroke-width="1.13" stroke-linecap="round"/>
<line x1="1.5" y1="235.1" x2="0.4" y2="236.0" stroke="#5a5a5a" stroke-width="1.27" stroke-linecap="round"/>
<line x1="6.0" y1="280.9" x2="8.3" y2="283.8" stroke="#3a3a3a" stroke-width="1.26" stroke-linecap="round"/>
<line x1="2.8" y1="229.0" x2="0.6" y2="229.5" stroke="#3a3a3a" stroke-width="1.49" stroke-linecap="round"/>
<line x1="7.2" y1="258.8" x2="8.8" y2="261.3" stroke="#2e2e2e" stroke-width="1.32" stroke-linecap="round"/>
<line x1="6.9" y1="250.3" x2="4.5" y2="250.7" stroke="#3a3a3a" stroke-width="0.85" stroke-linecap="round"/>
<line x1="5.3" y1="268.2" x2="2.0" y2="268.3" stroke="#5a5a5a" stroke-width="1.44" stroke-linecap="round"/>
<line x1="2.8" y1="281.8" x2="0.8" y2="282.2" stroke="#3a3a3a" stroke-width="1.24" stroke-linecap="round"/>
<line x1="2.4" y1="232.9" x2="0.8" y2="234.6" stroke="#2e2e2e" stroke-width="0.87" stroke-linecap="round"/>
<line x1="4.5" y1="249.8" x2="1.4" y2="251.0" stroke="#5a5a5a" stroke-width="1.44" stroke-linecap="round"/>
<line x1="5.6" y1="289.0" x2="6.3" y2="290.7" stroke="#3a3a3a" stroke-width="0.96" stroke-linecap="round"/>
<line x1="1.9" y1="233.9" x2="2.0" y2="236.7" stroke="#5a5a5a" stroke-width="1.05" stroke-linecap="round"/>
<line x1="4.4" y1="227.6" x2="3.7" y2="229.5" stroke="#4a4a4a" stroke-width="1.42" stroke-linecap="round"/>
<line x1="5.1" y1="254.6" x2="4.4" y2="255.8" stroke="#2e2e2e" stroke-width="1.16" stroke-linecap="round"/>
<line x1="3.9" y1="245.8" x2="4.5" y2="247.4" stroke="#4a4a4a" stroke-width="1.20" stroke-linecap="round"/>
<line x1="4.9" y1="225.0" x2="7.5" y2="225.9" stroke="#3a3a3a" stroke-width="1.65" stroke-linecap="round"/>
<line x1="0.6" y1="261.8" x2="2.3" y2="263.1" stroke="#5a5a5a" stroke-width="1.66" stroke-linecap="round"/>
<line x1="3.9" y1="261.0" x2="6.2" y2="261.8" stroke="#2e2e2e" stroke-width="1.23" stroke-linecap="round"/>
<line x1="1.2" y1="239.8" x2="0.0" y2="242.0" stroke="#2e2e2e" stroke-width="1.55" stroke-linecap="round"/>
<line x1="0.2" y1="228.8" x2="0.0" y2="229.2" stroke="#4a4a4a" stroke-width="1.42" stroke-linecap="round"/>
<line x1="6.2" y1="283.7" x2="7.9" y2="286.0" stroke="#3a3a3a" stroke-width="1.43" stroke-linecap="round"/>
<line x1="3.0" y1="236.1" x2="5.8" y2="237.7" stroke="#5a5a5a" stroke-width="1.37" stroke-linecap="round"/>
<line x1="6.5" y1="261.8" x2="5.2" y2="262.9" stroke="#4a4a4a" stroke-width="1.54" stroke-linecap="round"/>
<line x1="1.9" y1="271.0" x2="1.7" y2="273.1" stroke="#3a3a3a" stroke-width="1.69" stroke-linecap="round"/>
<line x1="3.9" y1="274.7" x2="6.1" y2="276.3" stroke="#5a5a5a" stroke-width="1.20" stroke-linecap="round"/>
<line x1="8.1" y1="285.4" x2="6.0" y2="285.7" stroke="#4a4a4a" stroke-width="0.89" stroke-linecap="round"/>
<line x1="2.8" y1="251.3" x2="3.0" y2="255.1" stroke="#3a3a3a" stroke-width="1.23" stroke-linecap="round"/>
<line x1="6.6" y1="264.7" x2="9.0" y2="265.4" stroke="#2e2e2e" stroke-width="1.50" stroke-linecap="round"/>
<line x1="3.9" y1="271.8" x2="6.7" y2="273.5" stroke="#5a5a5a" stroke-width="0.88" stroke-linecap="round"/>
<line x1="5.9" y1="286.1" x2="6.3" y2="289.2" stroke="#3a3a3a" stroke-width="1.45" stroke-linecap="round"/>
<line x1="1.0" y1="229.4" x2="4.2" y2="231.0" stroke="#4a4a4a" stroke-width="1.35" stroke-linecap="round"/>
<line x1="3.9" y1="260.5" x2="2.3" y2="260.8" stroke="#4a4a4a" stroke-width="0.82" stroke-linecap="round"/>
<line x1="6.0" y1="275.4" x2="8.9" y2="276.4" stroke="#4a4a4a" stroke-width="1.19" stroke-linecap="round"/>
<line x1="6.8" y1="280.6" x2="8.2" y2="281.8" stroke="#5a5a5a" stroke-width="1.25" stroke-linecap="round"/>
<line x1="2.7" y1="272.7" x2="2.2" y2="276.1" stroke="#3a3a3a" stroke-width="1.62" stroke-linecap="round"/>
<line x1="3.8" y1="242.8" x2="2.8" y2="246.3" stroke="#2e2e2e" stroke-width="1.54" stroke-linecap="round"/>
<line x1="1.1" y1="281.1" x2="3.3" y2="282.3" stroke="#2e2e2e" stroke-width="1.50" stroke-linecap="round"/>
<line x1="6.4" y1="261.4" x2="7.8" y2="262.1" stroke="#3a3a3a" stroke-width="1.30" stroke-linecap="round"/>
<line x1="4.3" y1="240.8" x2="3.7" y2="244.0" stroke="#3a3a3a" stroke-width="1.59" stroke-linecap="round"/>
<line x1="1.6" y1="221.1" x2="3.0" y2="221.3" stroke="#2e2e2e" stroke-width="1.31" stroke-linecap="round"/>
<line x1="7.5" y1="272.5" x2="8.0" y2="275.2" stroke="#4a4a4a" stroke-width="1.42" stroke-linecap="round"/>
<line x1="4.4" y1="250.0" x2="4.6" y2="253.7" stroke="#5a5a5a" stroke-width="1.63" stroke-linecap="round"/>
<line x1="1.7" y1="282.2" x2="2.0" y2="284.4" stroke="#2e2e2e" stroke-width="1.20" stroke-linecap="round"/>
<line x1="2.0" y1="222.3" x2="4.8" y2="223.0" stroke="#3a3a3a" stroke-width="1.61" stroke-linecap="round"/>
<line x1="5.9" y1="228.3" x2="5.1" y2="229.7" stroke="#4a4a4a" stroke-width="1.67" stroke-linecap="round"/>
<line x1="7.8" y1="233.0" x2="8.6" y2="235.4" stroke="#4a4a4a" stroke-width="0.95" stroke-linecap="round"/>
<line x1="4.2" y1="248.5" x2="5.1" y2="250.0" stroke="#5a5a5a" stroke-width="0.88" stroke-linecap="round"/>
<line x1="2.8" y1="243.7" x2="3.2" y2="246.7" stroke="#2e2e2e" stroke-width="1.10" stroke-linecap="round"/>
<line x1="4.2" y1="262.5" x2="7.9" y2="263.3" stroke="#4a4a4a" stroke-width="1.67" stroke-linecap="round"/>
<line x1="2.2" y1="224.6" x2="5.4" y2="225.0" stroke="#5a5a5a" stroke-width="1.48" stroke-linecap="round"/>
<line x1="7.0" y1="276.8" x2="5.0" y2="280.0" stroke="#2e2e2e" stroke-width="0.93" stroke-linecap="round"/>
<line x1="4.7" y1="284.1" x2="3.8" y2="285.3" stroke="#3a3a3a" stroke-width="1.52" stroke-linecap="round"/>
<line x1="7.3" y1="230.4" x2="8.2" y2="231.3" stroke="#3a3a3a" stroke-width="1.52" stroke-linecap="round"/>
<line x1="7.0" y1="223.1" x2="9.0" y2="223.8" stroke="#2e2e2e" stroke-width="0.81" stroke-linecap="round"/>
<line x1="3.4" y1="289.6" x2="0.7" y2="290.3" stroke="#3a3a3a" stroke-width="1.27" stroke-linecap="round"/>
<line x1="0.9" y1="234.4" x2="2.1" y2="235.1" stroke="#4a4a4a" stroke-width="1.64" stroke-linecap="round"/>
<line x1="4.4" y1="262.9" x2="6.2" y2="264.3" stroke="#4a4a4a" stroke-width="1.04" stroke-linecap="round"/>
<line x1="8.2" y1="275.7" x2="9.0" y2="275.8" stroke="#4a4a4a" stroke-width="1.26" stroke-linecap="round"/>
<line x1="3.7" y1="234.9" x2="2.3" y2="237.5" stroke="#2e2e2e" stroke-width="1.29" stroke-linecap="round"/>
<line x1="8.0" y1="281.9" x2="9.0" y2="283.3" stroke="#4a4a4a" stroke-width="1.11" stroke-linecap="round"/>
<line x1="5.8" y1="277.8" x2="4.9" y2="279.8" stroke="#5a5a5a" stroke-width="1.68" stroke-linecap="round"/>
<line x1="0.1" y1="278.1" x2="0.0" y2="281.3" stroke="#2e2e2e" stroke-width="0.95" stroke-linecap="round"/>
<line x1="6.9" y1="223.2" x2="4.2" y2="224.3" stroke="#5a5a5a" stroke-width="1.34" stroke-linecap="round"/>
<line x1="0.4" y1="267.6" x2="2.0" y2="268.6" stroke="#3a3a3a" stroke-width="1.04" stroke-linecap="round"/>
<path d="M0.5,219 q5,-1.5 7.5,2.5 M1,232 q4,3 7,0 M0.5,246 q4,-3 8,1 M1,259 q3,3 7.5,-1 M0.5,272 q4,-2 8,2 M1,285 q3,2 7,-1" fill="none" stroke="#333" stroke-width="1.45" stroke-linecap="butt" stroke-linejoin="round"/>
<path d="M0,295.3 L9.6,294.6" fill="none" stroke="#333" stroke-width="1.3" stroke-linecap="butt" stroke-linejoin="round"/>
<path d="M2.6,196.5 l1.2,3 M5.2,195.6 l0,3.2 l1.6,-1.4 M7.6,195.8 l0.4,3" fill="none" stroke="#333" stroke-width="1.16" stroke-linecap="butt" stroke-linejoin="round"/>
<text x="5.20" y="305.50" font-size="5.5" text-anchor="middle" font-weight="normal" fill="#333" stroke="#333" stroke-width="0.42">★</text>
<text x="3.50" y="318.50" font-size="5" text-anchor="start" font-weight="normal" fill="#333" stroke="#333" stroke-width="0.42">Z</text>
<path d="M44.3,195.2 C56,200 69,214 74.5,232 C79.5,248 79.5,266 73.5,281 C71.5,286 69.5,289.5 67,292.5" fill="none" stroke="#2a2a2a" stroke-width="1.45" stroke-linecap="butt" stroke-linejoin="round"/>
<path d="M45.5,229.5 C52,234 55.8,244 55.5,256 C55.2,266 53,274 49.2,280" fill="none" stroke="#444" stroke-width="1.01" stroke-linecap="butt" stroke-linejoin="round"/>
<g font-weight="bold" fill="#333" font-size="7.6" text-anchor="middle">
<text x="52" y="210" transform="rotate(40 52 208)">W</text>
<text x="54.6" y="232" transform="rotate(55 54.6 230)">Z</text>
<text x="64.5" y="229" transform="rotate(62 64.5 227)">K</text>
<text x="69.8" y="240" transform="rotate(75 69.8 238)">A</text>
<text x="71" y="263.6" font-size="6">★</text>
</g>
<path d="M60,224 l2.5,3 M58,236 l3,2.5" fill="none" stroke="#555" stroke-width="1.01" stroke-linecap="butt" stroke-linejoin="round"/>
<path d="M21.5,244 L68.5,299.5" fill="none" stroke="#222" stroke-width="1.59" stroke-linecap="round" stroke-linejoin="round"/>
<path d="M29.2,254.8 L36.8,247.2 L38.2,252.5 L31.8,253.6 C24,262 18.5,278 20,295 C21.5,311 31,322.5 45,323.2 C58,323.6 68.8,316.5 69.5,304 C70,297 68.5,292.5 66,288.5" fill="none" stroke="#222" stroke-width="1.59" stroke-linecap="round" stroke-linejoin="round"/>
<path d="M44,313 C50,309 55,304 58.5,297 M56,296 l6,9" fill="none" stroke="#555" stroke-width="0.87" stroke-linecap="butt" stroke-linejoin="round"/>
<circle cx="127.5" cy="18" r="0.5" fill="#777"/>
<circle cx="333" cy="168" r="0.45" fill="#777"/>
<circle cx="229" cy="443" r="0.5" fill="#777"/>
<circle cx="85" cy="358" r="0.45" fill="#777"/>
<circle cx="108" cy="378" r="0.45" fill="#777"/>
<circle cx="27" cy="425" r="0.4" fill="#777"/>
<circle cx="82" cy="467" r="0.45" fill="#777"/>
<circle cx="499" cy="275" r="0.5" fill="#777"/>
<circle cx="491" cy="346" r="0.45" fill="#777"/>
<circle cx="230" cy="299" r="0.4" fill="#777"/>
<circle cx="420" cy="223" r="0.4" fill="#777"/>
<circle cx="717" cy="152" r="0.5" fill="#777"/>
<circle cx="156" cy="193" r="0.4" fill="#777"/>
<circle cx="728" cy="586" r="0.45" fill="#777"/>
</g>
</svg>
</body></html>
